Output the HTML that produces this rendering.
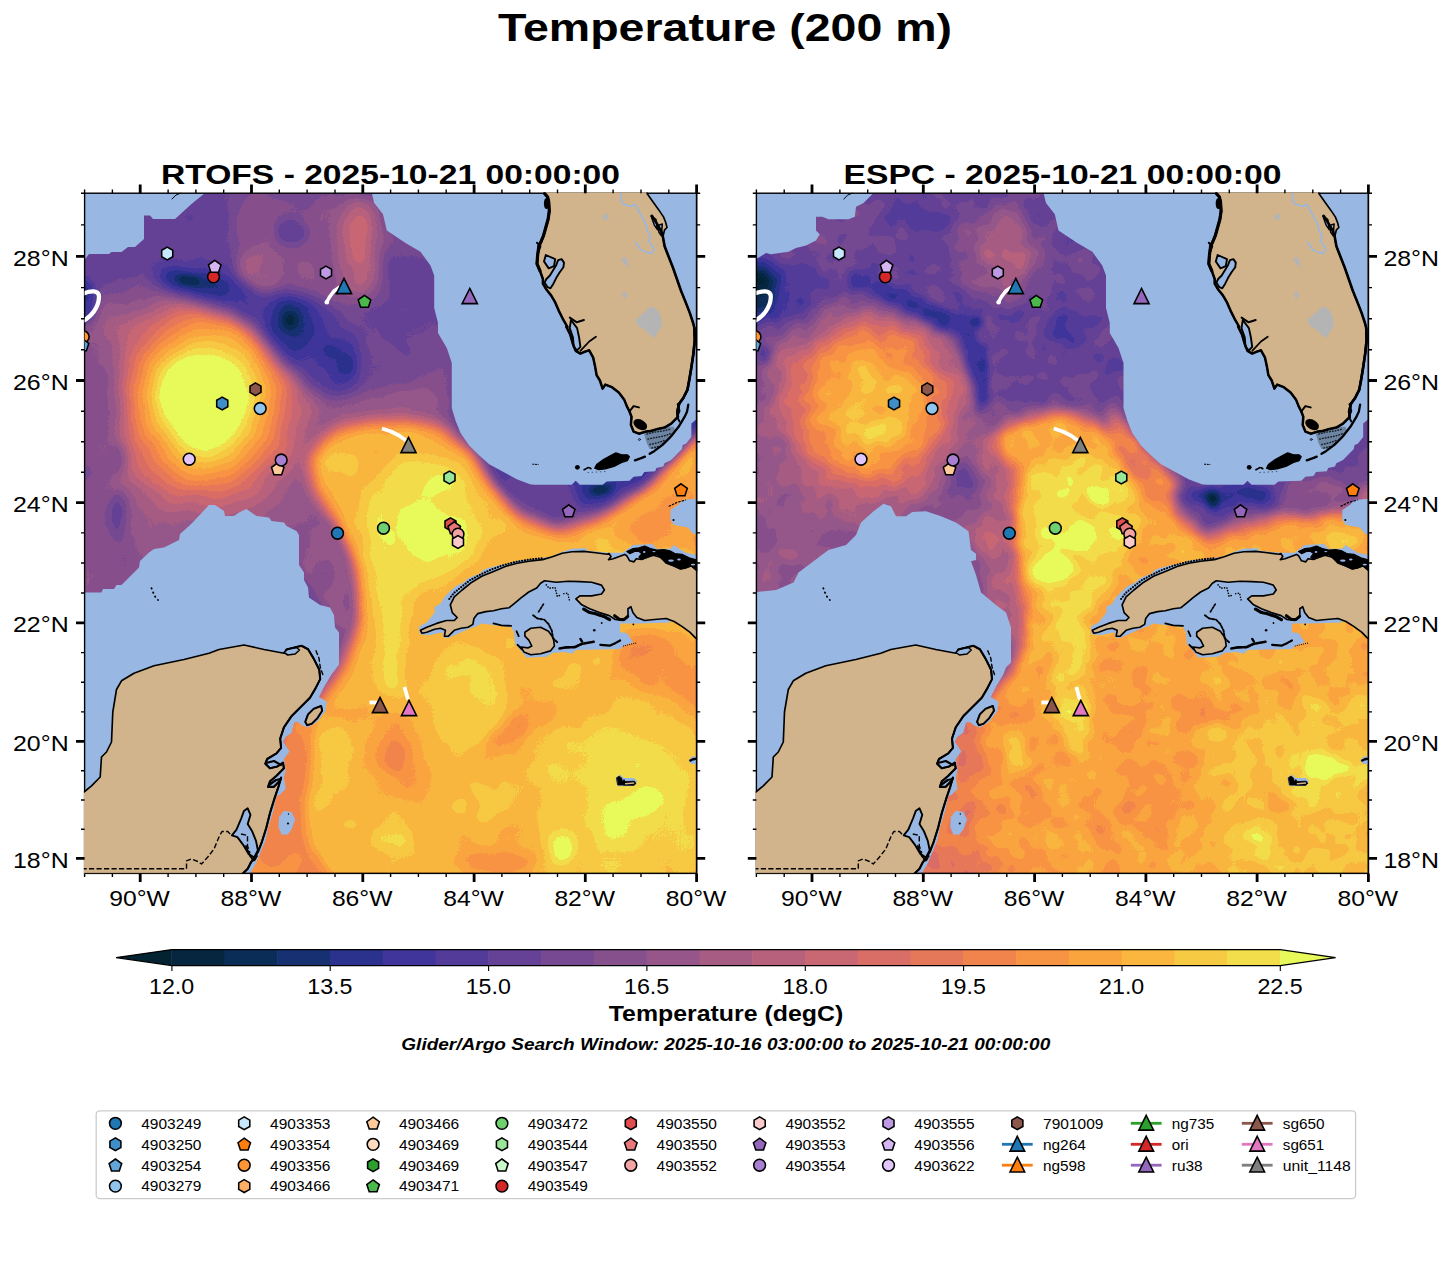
<!DOCTYPE html>
<html><head><meta charset="utf-8"><title>Temperature (200 m)</title>
<style>
html,body{margin:0;padding:0;background:#fff;}
body{width:1452px;height:1264px;overflow:hidden;font-family:"Liberation Sans",sans-serif;}
svg{display:block;font-family:"Liberation Sans",sans-serif;}
</style></head><body>
<svg width="1452" height="1264" viewBox="0 0 1452 1264">
<rect width="1452" height="1264" fill="#fff"/>
<g font-family="Liberation Sans, sans-serif" fill="#000">
<defs>
<clipPath id="clip0"><rect x="84.6" y="193.2" width="612.0" height="680.2"/></clipPath>
<clipPath id="clipL0"><rect x="83.9" y="192.5" width="613.4" height="681.6"/></clipPath>
<filter id="cm0" filterUnits="userSpaceOnUse" x="82.6" y="191.2" width="616.0" height="684.2" color-interpolation-filters="sRGB"><feTurbulence type="fractalNoise" baseFrequency="0.022" numOctaves="2" seed="7" result="n"/><feColorMatrix in="n" type="matrix" values="1 0 0 0 0 1 0 0 0 0 1 0 0 0 0 0 0 0 0 1" result="n2"/><feComposite in="SourceGraphic" in2="n2" operator="arithmetic" k1="0" k2="1" k3="0.085" k4="-0.0425" result="f"/><feComponentTransfer in="f"><feFuncR type="discrete" tableValues="0.0118 0.0118 0.0118 0.0118 0.0216 0.0412 0.0902 0.1686 0.2471 0.3255 0.3971 0.4618 0.5255 0.5882 0.6539 0.7225 0.7882 0.8510 0.9029 0.9441 0.9696 0.9794 0.9794 0.9696 0.9500 0.9059 0.9059 0.9059 0.9059 0.9059 0.9059 0.9059"/><feFuncG type="discrete" tableValues="0.1373 0.1373 0.1373 0.1373 0.1500 0.1755 0.1902 0.1941 0.2078 0.2314 0.2578 0.2873 0.3137 0.3373 0.3598 0.3814 0.4049 0.4304 0.4686 0.5196 0.5784 0.6451 0.7157 0.7902 0.8657 0.9804 0.9804 0.9804 0.9804 0.9804 0.9804 0.9804"/><feFuncB type="discrete" tableValues="0.2000 0.2000 0.2000 0.2000 0.2480 0.3441 0.4461 0.5539 0.6059 0.6020 0.5902 0.5706 0.5529 0.5373 0.5157 0.4882 0.4510 0.4039 0.3529 0.2980 0.2618 0.2441 0.2451 0.2647 0.2941 0.3529 0.3529 0.3529 0.3529 0.3529 0.3529 0.3529"/></feComponentTransfer><feGaussianBlur stdDeviation="0.55"/></filter>
<filter id="b0_2" filterUnits="userSpaceOnUse" x="24.6" y="133.2" width="732.0" height="800.2" color-interpolation-filters="sRGB"><feGaussianBlur stdDeviation="2"/></filter>
<filter id="b0_3" filterUnits="userSpaceOnUse" x="24.6" y="133.2" width="732.0" height="800.2" color-interpolation-filters="sRGB"><feGaussianBlur stdDeviation="3"/></filter>
<filter id="b0_4" filterUnits="userSpaceOnUse" x="24.6" y="133.2" width="732.0" height="800.2" color-interpolation-filters="sRGB"><feGaussianBlur stdDeviation="4"/></filter>
<filter id="b0_5" filterUnits="userSpaceOnUse" x="24.6" y="133.2" width="732.0" height="800.2" color-interpolation-filters="sRGB"><feGaussianBlur stdDeviation="5"/></filter>
<filter id="b0_6" filterUnits="userSpaceOnUse" x="24.6" y="133.2" width="732.0" height="800.2" color-interpolation-filters="sRGB"><feGaussianBlur stdDeviation="6"/></filter>
<filter id="b0_7" filterUnits="userSpaceOnUse" x="24.6" y="133.2" width="732.0" height="800.2" color-interpolation-filters="sRGB"><feGaussianBlur stdDeviation="7"/></filter>
<filter id="b0_8" filterUnits="userSpaceOnUse" x="24.6" y="133.2" width="732.0" height="800.2" color-interpolation-filters="sRGB"><feGaussianBlur stdDeviation="8"/></filter>
<filter id="b0_10" filterUnits="userSpaceOnUse" x="24.6" y="133.2" width="732.0" height="800.2" color-interpolation-filters="sRGB"><feGaussianBlur stdDeviation="10"/></filter>
<filter id="b0_12" filterUnits="userSpaceOnUse" x="24.6" y="133.2" width="732.0" height="800.2" color-interpolation-filters="sRGB"><feGaussianBlur stdDeviation="12"/></filter>
<filter id="b0_14" filterUnits="userSpaceOnUse" x="24.6" y="133.2" width="732.0" height="800.2" color-interpolation-filters="sRGB"><feGaussianBlur stdDeviation="14"/></filter>
<filter id="b0_16" filterUnits="userSpaceOnUse" x="24.6" y="133.2" width="732.0" height="800.2" color-interpolation-filters="sRGB"><feGaussianBlur stdDeviation="16"/></filter>
<filter id="b0_20" filterUnits="userSpaceOnUse" x="24.6" y="133.2" width="732.0" height="800.2" color-interpolation-filters="sRGB"><feGaussianBlur stdDeviation="20"/></filter>
<filter id="b0_24" filterUnits="userSpaceOnUse" x="24.6" y="133.2" width="732.0" height="800.2" color-interpolation-filters="sRGB"><feGaussianBlur stdDeviation="24"/></filter>
<filter id="b0_28" filterUnits="userSpaceOnUse" x="24.6" y="133.2" width="732.0" height="800.2" color-interpolation-filters="sRGB"><feGaussianBlur stdDeviation="28"/></filter>
<filter id="b0_32" filterUnits="userSpaceOnUse" x="24.6" y="133.2" width="732.0" height="800.2" color-interpolation-filters="sRGB"><feGaussianBlur stdDeviation="32"/></filter>
<filter id="b0_40" filterUnits="userSpaceOnUse" x="24.6" y="133.2" width="732.0" height="800.2" color-interpolation-filters="sRGB"><feGaussianBlur stdDeviation="40"/></filter>
<clipPath id="clip1"><rect x="756.4" y="193.2" width="612.0" height="680.2"/></clipPath>
<clipPath id="clipL1"><rect x="755.7" y="192.5" width="613.4" height="681.6"/></clipPath>
<filter id="cm1" filterUnits="userSpaceOnUse" x="754.4" y="191.2" width="616.0" height="684.2" color-interpolation-filters="sRGB"><feTurbulence type="fractalNoise" baseFrequency="0.04" numOctaves="2" seed="11" result="n"/><feColorMatrix in="n" type="matrix" values="1 0 0 0 0 1 0 0 0 0 1 0 0 0 0 0 0 0 0 1" result="n2"/><feComposite in="SourceGraphic" in2="n2" operator="arithmetic" k1="0" k2="1" k3="0.12" k4="-0.0600" result="f"/><feComponentTransfer in="f"><feFuncR type="discrete" tableValues="0.0118 0.0118 0.0118 0.0118 0.0216 0.0412 0.0902 0.1686 0.2471 0.3255 0.3971 0.4618 0.5255 0.5882 0.6539 0.7225 0.7882 0.8510 0.9029 0.9441 0.9696 0.9794 0.9794 0.9696 0.9500 0.9059 0.9059 0.9059 0.9059 0.9059 0.9059 0.9059"/><feFuncG type="discrete" tableValues="0.1373 0.1373 0.1373 0.1373 0.1500 0.1755 0.1902 0.1941 0.2078 0.2314 0.2578 0.2873 0.3137 0.3373 0.3598 0.3814 0.4049 0.4304 0.4686 0.5196 0.5784 0.6451 0.7157 0.7902 0.8657 0.9804 0.9804 0.9804 0.9804 0.9804 0.9804 0.9804"/><feFuncB type="discrete" tableValues="0.2000 0.2000 0.2000 0.2000 0.2480 0.3441 0.4461 0.5539 0.6059 0.6020 0.5902 0.5706 0.5529 0.5373 0.5157 0.4882 0.4510 0.4039 0.3529 0.2980 0.2618 0.2441 0.2451 0.2647 0.2941 0.3529 0.3529 0.3529 0.3529 0.3529 0.3529 0.3529"/></feComponentTransfer><feGaussianBlur stdDeviation="0.55"/></filter>
<filter id="b1_2" filterUnits="userSpaceOnUse" x="696.4" y="133.2" width="732.0" height="800.2" color-interpolation-filters="sRGB"><feGaussianBlur stdDeviation="2"/></filter>
<filter id="b1_3" filterUnits="userSpaceOnUse" x="696.4" y="133.2" width="732.0" height="800.2" color-interpolation-filters="sRGB"><feGaussianBlur stdDeviation="3"/></filter>
<filter id="b1_4" filterUnits="userSpaceOnUse" x="696.4" y="133.2" width="732.0" height="800.2" color-interpolation-filters="sRGB"><feGaussianBlur stdDeviation="4"/></filter>
<filter id="b1_5" filterUnits="userSpaceOnUse" x="696.4" y="133.2" width="732.0" height="800.2" color-interpolation-filters="sRGB"><feGaussianBlur stdDeviation="5"/></filter>
<filter id="b1_6" filterUnits="userSpaceOnUse" x="696.4" y="133.2" width="732.0" height="800.2" color-interpolation-filters="sRGB"><feGaussianBlur stdDeviation="6"/></filter>
<filter id="b1_7" filterUnits="userSpaceOnUse" x="696.4" y="133.2" width="732.0" height="800.2" color-interpolation-filters="sRGB"><feGaussianBlur stdDeviation="7"/></filter>
<filter id="b1_8" filterUnits="userSpaceOnUse" x="696.4" y="133.2" width="732.0" height="800.2" color-interpolation-filters="sRGB"><feGaussianBlur stdDeviation="8"/></filter>
<filter id="b1_10" filterUnits="userSpaceOnUse" x="696.4" y="133.2" width="732.0" height="800.2" color-interpolation-filters="sRGB"><feGaussianBlur stdDeviation="10"/></filter>
<filter id="b1_12" filterUnits="userSpaceOnUse" x="696.4" y="133.2" width="732.0" height="800.2" color-interpolation-filters="sRGB"><feGaussianBlur stdDeviation="12"/></filter>
<filter id="b1_14" filterUnits="userSpaceOnUse" x="696.4" y="133.2" width="732.0" height="800.2" color-interpolation-filters="sRGB"><feGaussianBlur stdDeviation="14"/></filter>
<filter id="b1_16" filterUnits="userSpaceOnUse" x="696.4" y="133.2" width="732.0" height="800.2" color-interpolation-filters="sRGB"><feGaussianBlur stdDeviation="16"/></filter>
<filter id="b1_20" filterUnits="userSpaceOnUse" x="696.4" y="133.2" width="732.0" height="800.2" color-interpolation-filters="sRGB"><feGaussianBlur stdDeviation="20"/></filter>
<filter id="b1_24" filterUnits="userSpaceOnUse" x="696.4" y="133.2" width="732.0" height="800.2" color-interpolation-filters="sRGB"><feGaussianBlur stdDeviation="24"/></filter>
<filter id="b1_28" filterUnits="userSpaceOnUse" x="696.4" y="133.2" width="732.0" height="800.2" color-interpolation-filters="sRGB"><feGaussianBlur stdDeviation="28"/></filter>
<filter id="b1_32" filterUnits="userSpaceOnUse" x="696.4" y="133.2" width="732.0" height="800.2" color-interpolation-filters="sRGB"><feGaussianBlur stdDeviation="32"/></filter>
<filter id="b1_40" filterUnits="userSpaceOnUse" x="696.4" y="133.2" width="732.0" height="800.2" color-interpolation-filters="sRGB"><feGaussianBlur stdDeviation="40"/></filter>
</defs>
<text x="725.0" y="41.4" font-size="39.40" text-anchor="middle" font-weight="bold" font-style="normal" textLength="454.0" lengthAdjust="spacingAndGlyphs">Temperature (200 m)</text>
<text x="390.5" y="183.8" font-size="28.20" text-anchor="middle" font-weight="bold" font-style="normal" textLength="459.0" lengthAdjust="spacingAndGlyphs">RTOFS - 2025-10-21 00:00:00</text>
<text x="1062.5" y="183.8" font-size="28.20" text-anchor="middle" font-weight="bold" font-style="normal" textLength="438.0" lengthAdjust="spacingAndGlyphs">ESPC - 2025-10-21 00:00:00</text>
<g clip-path="url(#clip0)"><g filter="url(#cm0)">
<rect x="14.6" y="123.2" width="752.0" height="820.2" fill="#595959"/>
<polygon points="84.0,250.0 150.0,215.0 235.0,195.0 250.0,260.0 200.0,270.0 120.0,290.0 84.0,300.0" fill="#535353" filter="url(#b0_10)"/>
<polygon points="70.0,310.0 130.0,295.0 230.0,300.0 300.0,380.0 330.0,430.0 320.0,520.0 300.0,560.0 200.0,560.0 150.0,600.0 70.0,620.0" fill="#6b6b6b" filter="url(#b0_16)"/>
<polygon points="300.0,400.0 350.0,395.0 440.0,380.0 450.0,430.0 330.0,470.0" fill="#6c6c6c" filter="url(#b0_10)"/>
<polygon points="215.0,890.0 255.0,790.0 292.0,722.0 318.0,700.0 336.0,677.0 347.0,655.0 357.0,625.0 354.0,575.0 336.0,528.0 312.0,485.0 310.0,455.0 330.0,432.0 365.0,422.0 410.0,420.0 445.0,428.0 472.0,452.0 495.0,487.0 520.0,517.0 558.0,530.0 590.0,522.0 612.0,510.0 645.0,487.0 680.0,452.0 706.0,422.0 710.0,890.0" fill="#b5b5b5" filter="url(#b0_8)"/>
<polygon points="458.0,425.0 478.0,452.0 497.0,482.0 522.0,508.0 558.0,519.0 606.0,506.0 642.0,487.0 678.0,452.0 705.0,425.0 705.0,380.0 458.0,380.0" fill="#535353" filter="url(#b0_5)"/>
<polygon points="566.0,470.0 580.0,508.0 606.0,500.0 640.0,480.0 676.0,446.0 705.0,415.0 705.0,380.0" fill="#3e3e3e" filter="url(#b0_5)"/>
<g filter="url(#b0_3)"><ellipse cx="601.0" cy="489.5" rx="12.0" ry="4.0" fill="#252525" transform="rotate(-6 601.0 489.5)"/></g>
<polygon points="600.0,535.0 640.0,515.0 672.0,490.0 700.0,460.0 712.0,470.0 712.0,545.0 640.0,548.0" fill="#a7a7a7" filter="url(#b0_7)"/>
<polygon points="385.0,462.0 420.0,455.0 455.0,470.0 478.0,500.0 485.0,535.0 470.0,565.0 440.0,580.0 412.0,590.0 402.0,640.0 400.0,692.0 384.0,692.0 380.0,640.0 375.0,590.0 368.0,540.0 365.0,495.0" fill="#c4c4c4" filter="url(#b0_7)"/>
<polygon points="402.0,512.0 425.0,506.0 440.0,516.0 464.0,520.0 462.0,546.0 440.0,550.0 428.0,562.0 413.0,552.0 403.0,530.0" fill="#d9d9d9" filter="url(#b0_4)"/>
<ellipse cx="206.0" cy="401.0" rx="72.0" ry="86.0" fill="#d9d9d9" filter="url(#b0_32)"/>
<ellipse cx="201.0" cy="398.0" rx="35.0" ry="42.0" fill="#dadada" filter="url(#b0_12)"/>
<polygon points="60.0,330.0 110.0,335.0 117.0,400.0 112.0,470.0 125.0,540.0 160.0,575.0 60.0,600.0" fill="#646464" filter="url(#b0_12)"/>
<polygon points="150.0,262.0 200.0,255.0 250.0,275.0 290.0,290.0 330.0,300.0 355.0,330.0 362.0,370.0 350.0,395.0 318.0,392.0 285.0,365.0 262.0,335.0 230.0,312.0 190.0,300.0 155.0,285.0" fill="#484848" filter="url(#b0_8)"/>
<g filter="url(#b0_6)"><ellipse cx="195.0" cy="282.0" rx="36.0" ry="10.0" fill="#393939" transform="rotate(10 195.0 282.0)"/></g>
<g filter="url(#b0_3)"><ellipse cx="189.0" cy="280.5" rx="12.0" ry="4.0" fill="#232323" transform="rotate(8 189.0 280.5)"/></g>
<ellipse cx="290.0" cy="322.0" rx="22.0" ry="26.0" fill="#3b3b3b" filter="url(#b0_7)"/>
<ellipse cx="290.0" cy="321.0" rx="8.0" ry="10.0" fill="#262626" filter="url(#b0_4)"/>
<ellipse cx="329.0" cy="350.0" rx="8.0" ry="8.0" fill="#3e3e3e" filter="url(#b0_4)"/>
<ellipse cx="346.0" cy="366.0" rx="9.0" ry="10.0" fill="#3d3d3d" filter="url(#b0_4)"/>
<polygon points="232.0,200.0 380.0,195.0 392.0,240.0 385.0,300.0 340.0,305.0 300.0,290.0 262.0,292.0 236.0,262.0" fill="#666666" filter="url(#b0_8)"/>
<ellipse cx="357.0" cy="246.0" rx="21.0" ry="47.0" fill="#7c7c7c" filter="url(#b0_7)"/>
<ellipse cx="359.0" cy="241.0" rx="9.0" ry="23.0" fill="#898989" filter="url(#b0_5)"/>
<ellipse cx="262.0" cy="268.0" rx="22.0" ry="18.0" fill="#6e6e6e" filter="url(#b0_6)"/>
<ellipse cx="291.0" cy="233.0" rx="17.0" ry="13.0" fill="#535353" filter="url(#b0_5)"/>
<ellipse cx="117.0" cy="515.0" rx="9.0" ry="25.0" fill="#505050" filter="url(#b0_6)"/>
<ellipse cx="117.0" cy="460.0" rx="8.0" ry="16.0" fill="#595959" filter="url(#b0_6)"/>
<polygon points="300.0,530.0 330.0,520.0 350.0,560.0 352.0,620.0 340.0,640.0 320.0,600.0 300.0,570.0" fill="#6b6b6b" filter="url(#b0_6)"/>
<ellipse cx="324.0" cy="577.0" rx="10.0" ry="15.0" fill="#5c5c5c" filter="url(#b0_5)"/>
<ellipse cx="84.0" cy="300.0" rx="12.0" ry="22.0" fill="#3d3d3d" filter="url(#b0_5)"/>
<ellipse cx="408.0" cy="280.0" rx="22.0" ry="40.0" fill="#535353" filter="url(#b0_8)"/>
<g filter="url(#b0_8)"><ellipse cx="394.0" cy="757.0" rx="27.0" ry="46.0" fill="#a6a6a6" transform="rotate(-10 394.0 757.0)"/></g>
<g filter="url(#b0_5)"><ellipse cx="394.0" cy="755.0" rx="12.0" ry="20.0" fill="#999999" transform="rotate(-10 394.0 755.0)"/></g>
<g filter="url(#b0_7)"><ellipse cx="520.0" cy="727.0" rx="40.0" ry="16.0" fill="#a9a9a9" transform="rotate(-30 520.0 727.0)"/></g>
<ellipse cx="520.5" cy="727.0" rx="7.0" ry="9.0" fill="#9f9f9f" filter="url(#b0_4)"/>
<polygon points="430.0,668.0 470.0,655.0 503.0,672.0 503.0,715.0 478.0,745.0 445.0,735.0 428.0,700.0" fill="#bebebe" filter="url(#b0_7)"/>
<ellipse cx="477.0" cy="688.0" rx="7.0" ry="7.0" fill="#c4c4c4" filter="url(#b0_3)"/>
<polygon points="540.0,738.0 600.0,702.0 655.0,702.0 705.0,740.0 705.0,885.0 560.0,885.0 535.0,820.0" fill="#bcbcbc" filter="url(#b0_12)"/>
<ellipse cx="634.0" cy="795.0" rx="52.0" ry="54.0" fill="#c6c6c6" filter="url(#b0_10)"/>
<g filter="url(#b0_5)"><ellipse cx="645.0" cy="802.0" rx="20.0" ry="13.0" fill="#cfcfcf" transform="rotate(-15 645.0 802.0)"/></g>
<ellipse cx="617.0" cy="769.0" rx="6.0" ry="7.0" fill="#cccccc" filter="url(#b0_3)"/>
<ellipse cx="563.0" cy="848.0" rx="18.0" ry="22.0" fill="#c2c2c2" filter="url(#b0_6)"/>
<ellipse cx="563.0" cy="849.0" rx="11.0" ry="13.0" fill="#d1d1d1" filter="url(#b0_4)"/>
<g filter="url(#b0_4)"><ellipse cx="540.0" cy="772.0" rx="12.0" ry="8.0" fill="#bebebe" transform="rotate(-30 540.0 772.0)"/></g>
<ellipse cx="495.0" cy="862.0" rx="40.0" ry="14.0" fill="#a4a4a4" filter="url(#b0_6)"/>
<polygon points="622.0,628.0 660.0,632.0 710.0,645.0 710.0,700.0 650.0,695.0 618.0,670.0" fill="#a4a4a4" filter="url(#b0_8)"/>
<polygon points="290.0,722.0 315.5,721.8 311.8,751.6 308.1,788.8 304.4,816.7 308.1,844.6 323.0,863.2 336.0,885.0 236.0,885.0 262.0,800.0 278.0,750.0" fill="#9e9e9e" filter="url(#b0_5)"/>
<ellipse cx="336.0" cy="755.0" rx="16.0" ry="34.0" fill="#bcbcbc" filter="url(#b0_6)"/>
<ellipse cx="392.0" cy="840.0" rx="20.0" ry="10.0" fill="#bcbcbc" filter="url(#b0_5)"/>
<g filter="url(#b0_4)"><ellipse cx="544.0" cy="771.0" rx="14.0" ry="8.0" fill="#bebebe" transform="rotate(-20 544.0 771.0)"/></g>
</g></g>
<g clip-path="url(#clip0)" fill="#98b7e2">
<polygon points="80.0,190.0 205.0,190.0 205.0,193.0 191.5,204.0 175.0,219.0 153.0,219.0 150.0,215.5 144.0,215.5 144.0,239.0 135.0,247.0 128.0,247.0 121.5,252.0 111.5,252.0 109.0,254.0 89.0,254.0 84.0,260.5 80.0,262.0"/>
<polygon points="371.8,190.0 371.8,193.0 374.2,203.0 383.0,214.2 386.8,230.5 405.5,243.0 420.5,251.8 430.5,265.5 434.2,275.5 434.2,308.0 438.0,323.0 438.0,333.0 446.8,348.0 451.8,363.0 451.8,408.0 455.5,420.5 460.5,433.0 469.2,445.5 478.0,454.2 489.2,464.2 503.0,471.8 516.8,479.2 530.0,484.2 534.0,484.8 571.7,484.8 575.7,480.7 579.8,484.8 602.6,484.8 606.7,481.4 629.5,480.7 633.6,476.7 641.6,476.0 644.3,472.0 655.1,471.3 656.4,468.0 663.2,466.6 664.5,463.2 671.2,459.9 682.0,449.1 682.7,445.1 686.0,443.7 691.4,437.0 691.4,423.6 696.1,419.5 702.0,415.0 702.0,190.0"/>
<polygon points="80.0,592.5 101.5,592.5 103.0,589.0 114.0,589.0 116.5,585.0 121.5,585.0 139.0,567.5 140.0,561.0 149.0,552.5 154.0,549.0 164.0,547.5 179.0,540.0 180.0,534.0 189.0,526.0 195.0,520.0 209.0,505.0 215.0,505.0 224.0,511.0 225.0,516.0 234.0,516.0 239.0,512.5 246.5,509.0 256.5,516.0 269.0,517.5 271.5,521.0 284.0,522.5 286.5,526.0 296.5,531.0 299.0,535.0 299.0,565.0 304.0,572.5 304.0,580.0 308.0,587.5 309.0,597.5 320.0,605.0 330.0,607.5 334.0,615.0 335.0,627.5 339.0,632.5 339.0,664.5 331.5,674.5 324.0,687.0 319.0,697.0 326.7,701.4 325.8,710.7 317.4,721.8 308.1,727.4 302.5,725.5 298.0,722.0 294.2,722.5 291.4,733.0 285.8,736.7 283.0,741.4 289.5,751.6 283.9,759.0 285.8,770.2 283.9,777.6 285.8,788.8 280.2,794.4 276.5,796.2 272.8,813.0 268.1,827.8 265.3,840.9 259.8,853.9 256.0,863.2 250.5,872.5 248.0,882.0 80.0,882.0"/>
<polygon points="279.0,817.0 284.0,810.8 291.5,812.0 295.2,819.5 291.5,829.5 287.8,834.5 281.5,834.5 278.5,827.0"/>
<polygon points="702.0,498.0 696.0,498.8 683.0,500.0 678.0,505.0 670.5,510.0 670.5,520.0 674.2,525.0 688.0,527.5 693.0,533.8 702.0,535.0"/>
<polygon points="418.9,626.4 426.8,622.4 434.6,612.6 434.6,606.7 440.5,603.8 444.4,596.9 450.3,591.0 456.2,586.1 464.1,582.2 468.0,578.3 479.8,573.4 483.7,569.4 497.4,565.5 509.2,563.6 517.1,560.6 530.8,559.6 542.6,557.7 550.4,556.7 562.2,551.8 572.0,548.8 585.8,548.2 587.7,550.8 609.3,552.8 623.0,552.8 628.0,548.8 632.9,544.9 652.5,543.9 656.4,548.8 670.2,548.8 674.1,544.9 678.0,547.9 685.9,552.8 695.7,554.7 703.5,554.7 703.5,598.9 670.2,619.5 670.2,622.4 638.7,623.4 620.1,623.4 620.1,632.2 627.0,633.2 632.9,642.1 623.0,646.0 620.1,648.9 575.9,649.9 572.0,653.8 564.2,651.9 552.4,652.9 546.5,656.8 526.9,657.8 522.0,651.9 515.1,644.0 514.1,632.2 511.2,627.3 489.6,624.4 481.7,623.4 475.8,626.4 470.0,628.3 448.4,638.1 444.4,638.1 442.5,632.2 428.7,635.2 419.9,634.2"/>
</g>
<rect x="84.6" y="193.2" width="612.0" height="680.2" fill="none" stroke="#000" stroke-width="1.4"/>
<g clip-path="url(#clipL0)" stroke="#000" stroke-width="1.65" stroke-linejoin="round" stroke-linecap="round" fill="none">
<polygon points="544.6,193.5 547.6,197.0 548.7,201.7 549.3,211.1 548.1,219.3 545.8,227.5 543.5,235.7 541.1,241.5 538.8,246.2 537.6,255.6 537.0,263.8 540.0,270.8 542.9,279.0 542.9,283.7 546.4,289.5 551.1,295.4 555.2,302.4 558.7,310.6 562.8,318.8 567.5,327.0 566.3,326.7 570.3,334.8 573.0,344.2 575.7,350.9 580.4,353.6 585.1,351.6 589.2,350.3 593.2,357.7 595.2,367.1 596.6,375.1 599.9,380.5 602.6,388.6 605.3,384.6 612.0,387.2 618.8,392.6 624.1,399.4 626.8,406.1 629.5,411.5 631.5,416.8 630.9,424.9 633.6,431.6 638.9,433.7 645.7,431.6 651.0,431.0 657.8,428.9 664.5,427.6 671.2,423.6 677.9,416.8 677.3,411.5 679.3,403.4 683.3,398.0 687.4,389.9 689.4,379.2 691.4,367.1 693.4,353.6 694.8,340.2 694.4,328.1 693.3,323.5 689.8,312.9 685.7,302.4 681.0,290.7 676.9,279.0 672.8,267.3 668.2,255.6 664.6,246.2 662.9,236.8 664.6,229.8 667.0,227.5 665.8,222.8 663.5,216.9 658.8,209.9 652.9,201.7 647.1,193.5 647.1,186.5 544.6,186.5" fill="#d2b48c"/>
<polygon points="420.5,630.3 426.8,627.3 436.6,623.4 446.4,620.5 454.3,620.5 457.2,617.5 452.3,612.6 450.3,604.8 454.3,596.9 462.1,590.0 471.9,582.2 481.7,576.3 493.5,571.4 505.3,566.5 517.1,563.2 528.8,561.2 542.6,559.6 552.4,556.7 562.2,553.3 572.0,551.8 583.8,551.4 595.6,552.8 607.3,554.2 609.0,553.5 611.0,556.5 608.5,559.7 613.2,558.7 624.7,554.4 626.8,555.8 629.7,560.8 634.0,561.9 636.1,558.7 641.8,559.4 646.1,557.6 653.3,555.1 660.5,557.2 666.2,563.0 673.4,565.8 680.5,569.0 685.5,568.0 691.3,565.8 696.3,570.1 704.0,573.0 703.5,642.1 695.7,638.1 689.8,632.2 681.9,626.4 674.1,621.5 666.2,618.5 654.5,619.5 644.6,620.5 636.8,617.5 632.9,612.6 630.9,606.7 628.0,608.7 628.0,616.5 623.0,620.5 615.2,619.5 609.3,615.6 599.5,612.6 589.7,608.7 581.8,604.8 575.9,598.9 579.9,595.9 591.6,595.9 601.5,594.0 604.4,590.0 601.5,585.1 591.6,582.2 579.9,581.6 568.1,581.2 556.3,582.2 544.5,580.8 540.6,583.2 536.7,588.1 528.8,592.0 521.0,597.9 515.1,602.8 509.2,607.7 501.4,608.7 493.5,610.7 485.7,611.6 477.8,613.6 473.9,618.5 472.9,624.4 468.0,627.3 461.1,628.3 454.3,630.3 448.4,636.2 444.4,636.2 445.4,630.3 440.5,628.3 434.6,629.3 426.8,632.2 421.9,633.2" fill="#d2b48c"/>
<polygon points="524.9,632.2 530.8,628.3 540.6,627.3 548.5,631.3 553.4,638.1 554.4,646.0 550.4,650.9 540.6,653.8 530.8,654.8 523.9,651.9 521.0,647.0 527.9,647.9 531.8,646.0 528.8,640.1 524.9,636.2" fill="#d2b48c"/>
<polygon points="79.0,792.0 84.0,792.0 91.5,785.8 100.2,777.0 101.5,757.0 106.5,752.0 111.5,742.0 112.8,712.0 116.5,689.5 121.5,680.8 134.0,673.2 154.0,665.8 184.0,659.5 209.0,653.2 219.0,649.5 244.0,645.0 264.0,649.5 284.0,653.2 286.5,649.5 301.5,645.8 308.1,649.3 313.7,658.6 319.3,669.8 320.2,679.1 315.5,688.4 310.0,697.7 300.7,707.0 291.4,716.3 283.9,727.4 280.2,738.6 281.1,747.9 276.5,753.4 267.2,759.0 265.3,763.7 270.0,768.3 277.4,766.5 283.0,762.7 283.9,768.3 276.5,775.8 270.0,781.3 268.1,786.9 273.7,786.9 279.3,781.3 281.1,777.6 278.4,786.9 274.6,798.1 270.0,813.0 266.3,827.8 261.6,842.7 257.9,852.0 250.5,863.2 247.7,868.8 241.2,875.1 238.0,884.0 79.0,884.0" fill="#d2b48c"/>
<polygon points="305.3,721.8 308.1,714.4 313.7,708.8 321.1,706.0 322.1,710.7 317.4,718.1 311.8,723.7 307.2,725.2" fill="#d2b48c"/>
<polygon points="635.4,320.0 642.4,314.1 648.3,308.3 652.9,306.5 658.8,311.8 661.7,318.8 661.5,325.8 661.1,328.1 657.1,332.8 655.8,337.5 651.0,336.1 644.3,329.4 637.6,325.4" fill="#b4b4b4" stroke="none"/>
<polygon points="621.3,259.1 624.8,256.7 627.8,260.2 628.4,264.9 630.1,269.6 627.2,266.1 623.7,263.8" fill="#b4b4b4" stroke="none"/>
<polygon points="621.9,293.0 625.4,291.3 627.8,294.8 625.4,298.3 623.7,299.5 623.1,296.0" fill="#b4b4b4" stroke="none"/>
<circle cx="605.5" cy="217" r="3" fill="#b4b4b4" stroke="none"/>
<path d="M620.7 193.5 L620.7 201.1 L623.7 204.0 L630.7 206.4 L635.4 204.6 L638.9 211.1 L642.4 218.1 L645.9 224.0 L647.1 231.0 L650.6 236.8 L648.3 241.5 L651.8 245.0 L654.1 248.5 L651.8 253.2 L647.1 252.6 L640.1 249.1 L636.0 242.1" stroke="#98b7e2" stroke-width="1.6"/>
<polygon points="544.6,282.5 546.4,279.0 549.9,275.5 552.8,270.8 556.3,264.9 558.1,260.2 561.6,259.1 564.0,262.6 563.4,267.3 559.9,272.0 556.3,277.8 553.4,283.7 550.5,288.3 547.6,287.2" fill="#98b7e2" stroke-width="1.9"/>
<polygon points="545.8,255.0 555.2,259.1 554.0,266.1 548.7,268.4 544.0,261.4" fill="#98b7e2" stroke-width="1.9"/>
<polygon points="571.0,320.0 577.1,328.1 579.1,337.5 580.4,346.9 577.1,350.3 573.7,346.9 573.0,337.5 569.7,328.1" fill="#98b7e2" stroke-width="1.9"/>
<polygon points="247.7,808.3 250.5,814.8 247.7,824.1 252.3,831.6 256.0,840.9 257.9,850.2 254.2,857.6 248.6,853.9 243.0,844.6 237.4,837.1 231.9,835.3 236.5,829.7 241.2,818.5 243.9,811.1" fill="#98b7e2" stroke-width="1.9"/>
<polygon points="651.2,216.3 655.9,219.3 657.6,229.8 654.3,225.1" fill="#98b7e2" stroke-width="1.5"/>
<polygon points="658.8,225.1 662.3,224.0 661.4,235.7 658.8,232.1" fill="#98b7e2" stroke-width="1.5"/>
<polygon points="284.0,652.5 287.8,649.0 296.5,647.5 299.5,650.0 295.2,654.0 287.8,655.0" fill="#98b7e2" stroke-width="1.5"/>
<path d="M544.6 193.5 L547.6 197.0 L548.7 201.7 L549.3 211.1 L548.1 219.3 L545.8 227.5 L543.5 235.7 L541.1 241.5 L538.8 246.2 L537.6 255.6 L537.0 263.8 L540.0 270.8 L542.9 279.0 L542.9 283.7 L546.4 289.5 L551.1 295.4 L555.2 302.4 L558.7 310.6 L562.8 318.8 L567.5 327.0 L566.3 326.7 L570.3 334.8 L573.0 344.2 L575.7 350.9 L580.4 353.6 L585.1 351.6 L589.2 350.3 L593.2 357.7 L595.2 367.1 L596.6 375.1 L599.9 380.5 L602.6 388.6 L605.3 384.6 L612.0 387.2 L618.8 392.6 L624.1 399.4 L626.8 406.1 L629.5 411.5 L631.5 416.8 L630.9 424.9 L633.6 431.6 L638.9 433.7 L645.7 431.6 L651.0 431.0 L657.8 428.9 L664.5 427.6 L671.2 423.6 L677.9 416.8 L677.3 411.5 L679.3 403.4 L683.3 398.0 L687.4 389.9 L689.4 379.2 L691.4 367.1 L693.4 353.6 L694.8 340.2 L694.4 328.1" stroke-width="2.5"/>
<path d="M544.6 193.5 L547.6 197.0 L548.7 201.7 L549.3 211.1 L548.1 219.3 L545.8 227.5 L543.5 235.7 L541.1 241.5 L538.8 246.2 L537.6 255.6 L537.0 263.8 L540.0 270.8" stroke-width="3.2"/>
<path d="M677.9 416.8 L677.3 411.5 L679.3 403.4 L683.3 398.0 L687.4 389.9 L689.4 379.2 L691.4 367.1 L693.4 353.6 L694.8 340.2 L694.4 328.1 L693.3 323.5 L689.8 312.9 L685.7 302.4 L681.0 290.7 L676.9 279.0 L672.8 267.3 L668.2 255.6 L664.6 246.2 L662.9 236.8 L661.1 231.0 L656.4 222.8 L651.8 215.8" stroke-width="2.6"/>
<path d="M580.4 350.9 L589.2 341.5 L595.9 336.8" stroke-width="1.8"/>
<path d="M629.5 411.5 L633.6 406.1 L638.9 407.4" stroke-width="2"/>
<path d="M569.8 317.6 L576.8 322.3 L583.9 320.0" stroke-width="2"/>
<path d="M537.0 242.7 L540.5 246.2 L538.8 250.9" stroke-width="2"/>
<ellipse cx="640.3" cy="424.6" rx="6.6" ry="4.0" fill="#000" transform="rotate(30 640.3 424.6)"/>
<ellipse cx="546.5" cy="203.5" rx="2.6" ry="5.5" fill="#000" stroke="none"/>
<path d="M688.3 404.6 L687.1 411.4 L684.4 417.2 L678.6 426.8 L670.9 436.5 L662.2 445.1 L654.5 450.9 L649.7 453.8" stroke-width="2.3"/>
<path d="M644.9 456.7 L634.3 460.6" stroke-width="2.4" stroke-dasharray="4.5 1.6"/>
<polygon points="594.7,468.3 596.6,464.4 603.4,459.6 612.1,454.8 615.9,452.9 621.7,454.8 627.5,454.8 629.4,456.7 627.5,460.6 621.7,462.5 614.0,466.4 605.3,468.8 598.6,469.7" fill="#000" stroke-width="1.2"/>
<circle cx="577.4" cy="467.3" r="2.4" fill="#000" stroke="none"/>
<path d="M584.1 469.7 L588.9 467.3 L591.8 469.3" stroke-width="1.7" stroke-dasharray="1.6 1.5"/>
<path d="M588.0 472.5 L606.0 471.5" stroke-width="0.9" stroke-dasharray="0.6 3.5" stroke-opacity="0.6"/>
<path d="M532.7 464.2 L538.1 464.5" stroke-width="1" stroke-dasharray="1.2 1.5"/>
<polygon points="643.9,433.6 648.7,429.7 656.4,428.8 666.1,426.8 673.8,426.8 675.7,431.6 670.9,438.4 664.1,445.1 656.4,449.0 649.7,449.0 646.8,443.2" fill="#000" fill-opacity="0.28" stroke="none"/>
<path d="M647.0 434.0 L655.0 432.0 L663.0 431.0 L671.0 429.0" stroke-width="1.5" stroke-dasharray="0.6 2.2" stroke-opacity="0.75"/>
<path d="M648.0 439.0 L656.0 437.5 L664.0 436.0 L671.0 433.5" stroke-width="1.5" stroke-dasharray="0.6 2.2" stroke-opacity="0.75"/>
<path d="M650.0 444.5 L657.0 443.0 L664.0 440.5" stroke-width="1.5" stroke-dasharray="0.6 2.2" stroke-opacity="0.75"/>
<path d="M652.0 448.0 L659.0 446.5" stroke-width="1.5" stroke-dasharray="0.6 2.2" stroke-opacity="0.75"/>
<circle cx="639.4" cy="439.5" r="1" fill="none" stroke-width="0.7"/>
<path d="M677.6 404.0 L679.6 411.0 L677.2 417.0 L679.5 421.5" stroke-width="1.8"/>
<polygon points="626.8,551.5 633.2,548.6 639.0,547.9 644.7,546.1 650.4,548.6 656.9,550.1 664.1,549.7 669.8,550.8 674.8,553.6 682.0,554.4 689.1,557.9 697.0,560.1 697.0,570.5 691.3,565.8 685.5,568.0 680.5,569.0 673.4,565.8 666.2,563.0 661.9,558.7 656.9,554.4 651.9,554.4 646.1,557.6 641.8,559.4 639.0,557.2 641.8,553.6 639.0,551.5 634.7,551.5 629.7,553.6" fill="#000" stroke-width="1.2"/>
<ellipse cx="632.7" cy="557.3" rx="3.0" ry="2.3" fill="#98b7e2" stroke="none"/>
<ellipse cx="644.2" cy="552.0" rx="1.3" ry="1.0" fill="#98b7e2" stroke="none"/>
<ellipse cx="671.0" cy="560.6" rx="2.8" ry="1.2" fill="#98b7e2" stroke="none"/>
<ellipse cx="693.0" cy="564.6" rx="2.2" ry="0.9" fill="#98b7e2" stroke="none"/>
<ellipse cx="654.0" cy="551.6" rx="1.6" ry="0.7" fill="#98b7e2" stroke="none"/>
<ellipse cx="679.0" cy="559.5" rx="1.8" ry="1.0" fill="#98b7e2" stroke="none"/>
<path d="M449.3 598.9 L454.3 592.6 L461.1 587.1 L470.0 580.2 L479.8 574.9 L490.6 569.8 L502.3 565.5 L515.1 562.0 L528.8 559.6 L542.6 558.1" stroke-width="2.1" stroke-dasharray="0.1 2.7"/>
<path d="M583.7 609.1 L589.3 612.4 L594.8 613.5 L599.7 615.2 L604.7 616.8 L609.6 619.6" stroke-width="3.2" stroke-dasharray="2.6 1.4"/>
<path d="M614.6 615.7 L619.6 619.4 L624.0 619.6 L627.8 616.3" stroke-width="3.0"/>
<path d="M533.1 615.2 L537.5 618.5 L544.1 619.6 L548.5 624.0 L551.8 630.6 L552.9 638.3 L557.3 642.2" stroke-width="1.9" stroke-dasharray="2.5 1.6"/>
<path d="M559.5 648.5 L566.1 647.4 L574.9 647.1 L581.5 644.0 L587.1 642.9 L593.7 641.8" stroke-width="2.6" stroke-dasharray="3 1.2"/>
<path d="M580.4 638.9 L582.1 641.6" stroke-width="2.4"/>
<path d="M600.3 644.9 L610.2 645.6 L615.7 642.9 L620.1 640.5" stroke-width="2.2"/>
<path d="M623.4 646.0 L630.0 644.4 L637.7 642.7" stroke-width="1.1" stroke-dasharray="0.1 2"/>
<path d="M538.6 611.9 L541.3 607.5 L544.1 603.1" stroke-width="1.7" stroke-dasharray="2 1.6"/>
<path d="M546.3 584.9 L549.0 588.2 L555.1 587.6 L557.3 596.4 L560.1 595.3" stroke-width="1.6" stroke-dasharray="0.1 2.6"/>
<path d="M563.9 593.7 L567.8 593.1 L569.4 600.3" stroke-width="1.5" stroke-dasharray="0.1 2.6"/>
<path d="M516.5 631.2 L518.7 636.1" stroke-width="1.8"/>
<path d="M517.6 644.9 L522.0 649.3" stroke-width="2"/>
<circle cx="594.3" cy="630.2" r="1.3" fill="#000" stroke="none"/>
<circle cx="601.7" cy="623" r="0.9" fill="#000" stroke="none"/>
<circle cx="633.4" cy="624.4" r="0.9" fill="#000" stroke="none"/>
<path d="M493.5 623.4 L501.4 625.4 L511.2 625.8" stroke-width="1.8"/>
<path d="M286.5 649.5 L301.5 645.8 L308.1 649.3 L313.7 658.6 L319.3 669.8 L320.2 679.1 L315.5 688.4 L310.0 697.7 L300.7 707.0 L291.4 716.3 L283.9 727.4 L280.2 738.6 L281.1 747.9 L276.5 753.4 L267.2 759.0 L265.3 763.7 L270.0 768.3 L277.4 766.5 L283.0 762.7 L283.9 768.3 L276.5 775.8 L270.0 781.3 L268.1 786.9 L273.7 786.9 L279.3 781.3 L281.1 777.6 L278.4 786.9 L274.6 798.1 L270.0 813.0 L266.3 827.8 L261.6 842.7 L257.9 852.0 L250.5 863.2 L247.7 868.8 L241.2 875.1" stroke-width="2.1"/>
<polygon points="305.3,721.8 308.1,714.4 313.7,708.8 321.1,706.0 322.1,710.7 317.4,718.1 311.8,723.7 307.2,725.2" fill="#d2b48c" stroke-width="1.9"/>
<path d="M316.0 650.8 L319.0 658.2 L320.2 667.0 L322.8 674.5" stroke-width="1.4" stroke-dasharray="4 3"/>
<path d="M151.5 588.2 L154.5 595.8 L158.0 600.0" stroke-width="1.8" stroke-dasharray="0.5 4"/>
<path d="M81.5 868.8 L186.5 868.8 L186.5 860.8 L191.5 859.0 L197.8 861.5 L201.5 864.0 L207.8 857.0 L214.0 849.0 L219.0 837.0 L222.0 831.5 L227.8 831.5 L231.0 835.0" stroke-width="1.4" stroke-dasharray="5.2 2.3" stroke-linecap="butt"/>
<path d="M241.0 834.0 L247.5 835.5 L247.5 846.0 L250.0 853.0" stroke-width="1.4" stroke-dasharray="5.2 2.3" stroke-linecap="butt"/>
<path d="M246.0 846.0 L250.0 856.0 L254.0 861.0 L257.0 856.0" stroke-width="1.8" stroke-dasharray="3 1.5"/>
<path d="M266.0 763.0 L274.0 761.0 L281.0 765.0" stroke-width="2.2"/>
<path d="M269.0 785.0 L276.0 780.0 L281.0 779.0" stroke-width="2.2"/>
<circle cx="288.0" cy="823.5" r="1.1" fill="#000" stroke="none"/><circle cx="288.5" cy="814" r="0.7" fill="#000" stroke="none"/>
<polygon points="615.5,778.5 620.0,774.5 623.5,778.0 634.0,778.0 637.2,781.3 634.0,786.0 618.0,786.2" fill="#98b7e2" stroke="none"/>
<polygon points="616.8,777.6 619.2,776.2 621.6,778.0 622.6,781.8 624.0,779.6 625.2,781.6 634.4,781.2 636.0,783.4 634.0,785.3 625.0,785.3 622.0,785.0 618.0,785.0" fill="#000" stroke-width="0.8"/>
<path d="M625.0 783.7 L634.2 782.9" stroke="#d2b48c" stroke-width="1.5" stroke-linecap="butt"/>
<polygon points="688.5,760.5 692.0,756.5 697.0,756.5 697.0,764.0 691.5,764.0" fill="#98b7e2" stroke="none"/>
<path d="M689.5 761.0 L693.0 759.2 L697.0 758.6" stroke-width="2.4" stroke-linecap="butt"/>
<path d="M669.2 506.2 L676.8 502.5 L685.5 500.0" stroke-width="1.2" stroke-dasharray="1.5 2"/>
<circle cx="673.5" cy="520" r="1.1" fill="#000" stroke="none"/>
<path d="M172.0 199.0 L176.0 195.0 L181.0 193.0" stroke-width="1"/>
</g>
<g clip-path="url(#clip0)">
<path d="M82.0 294 C90.0 290.5 99.5 289.5 99.0 297.5 C98.5 307 92.0 316.5 82.0 321.5" fill="none" stroke="#fff" stroke-width="4.2"/>
<path d="M340.0 287.0 L334.0 291.0 L329.5 297.0 L326.5 302.5" fill="none" stroke="#fff" stroke-width="3.6" stroke-linecap="butt" stroke-linejoin="round"/>
<path d="M382.0 428.5 L391.0 431.5 L399.0 435.5 L406.0 440.5" fill="none" stroke="#fff" stroke-width="3.8" stroke-linecap="butt" stroke-linejoin="round"/>
<path d="M369.5 702.5 L377.0 702.5" fill="none" stroke="#fff" stroke-width="3.8" stroke-linecap="butt" stroke-linejoin="round"/>
<path d="M404.5 687.0 L408.0 699.5" fill="none" stroke="#fff" stroke-width="3.8" stroke-linecap="butt" stroke-linejoin="round"/>
<circle cx="326.8" cy="302.3" r="2.3" fill="#fff"/>
<polygon points="167.2,247.1 172.8,250.3 172.8,256.7 167.2,259.9 161.7,256.7 161.7,250.3" fill="#c6e7fc" stroke="#000" stroke-width="1.55" stroke-linejoin="miter"/>
<circle cx="213.5" cy="276.8" r="5.9" fill="#d62728" stroke="#000" stroke-width="1.55"/>
<polygon points="214.8,260.3 221.0,264.9 218.6,272.2 210.9,272.2 208.5,264.9" fill="#d5b6f3" stroke="#000" stroke-width="1.55" stroke-linejoin="miter"/>
<polygon points="326.0,266.1 331.5,269.3 331.5,275.7 326.0,278.9 320.5,275.7 320.5,269.3" fill="#bf9ae4" stroke="#000" stroke-width="1.55" stroke-linejoin="miter"/>
<polygon points="364.5,295.3 370.8,299.9 368.4,307.2 360.6,307.2 358.2,299.9" fill="#4bb84b" stroke="#000" stroke-width="1.55" stroke-linejoin="miter"/>
<polygon points="255.5,382.9 261.0,386.1 261.0,392.4 255.5,395.6 250.0,392.4 250.0,386.1" fill="#8c564b" stroke="#000" stroke-width="1.55" stroke-linejoin="miter"/>
<polygon points="222.2,397.1 227.8,400.3 227.8,406.7 222.2,409.9 216.7,406.7 216.7,400.3" fill="#3f8ec9" stroke="#000" stroke-width="1.55" stroke-linejoin="miter"/>
<circle cx="260.2" cy="408.5" r="5.9" fill="#8fc4ec" stroke="#000" stroke-width="1.55"/>
<circle cx="189.2" cy="459.2" r="5.9" fill="#e0c6fb" stroke="#000" stroke-width="1.55"/>
<polygon points="277.8,462.8 284.0,467.4 281.6,474.7 273.9,474.7 271.5,467.4" fill="#ffc999" stroke="#000" stroke-width="1.55" stroke-linejoin="miter"/>
<circle cx="281.2" cy="460.0" r="5.9" fill="#a87fd2" stroke="#000" stroke-width="1.55"/>
<circle cx="83.2" cy="336.8" r="5.9" fill="#ff9535" stroke="#000" stroke-width="1.55"/>
<polygon points="82.5,338.8 88.8,343.4 86.4,350.7 78.6,350.7 76.2,343.4" fill="#62a5d8" stroke="#000" stroke-width="1.55" stroke-linejoin="miter"/>
<polygon points="449.5,471.1 455.0,474.3 455.0,480.7 449.5,483.9 444.0,480.7 444.0,474.3" fill="#98e698" stroke="#000" stroke-width="1.55" stroke-linejoin="miter"/>
<polygon points="681.0,483.8 687.3,488.4 684.9,495.7 677.1,495.7 674.7,488.4" fill="#ff7f0e" stroke="#000" stroke-width="1.55" stroke-linejoin="miter"/>
<polygon points="568.8,504.8 575.0,509.4 572.6,516.7 564.9,516.7 562.5,509.4" fill="#9467bd" stroke="#000" stroke-width="1.55" stroke-linejoin="miter"/>
<circle cx="337.5" cy="533.2" r="5.9" fill="#1f77b4" stroke="#000" stroke-width="1.55"/>
<circle cx="383.5" cy="528.2" r="5.9" fill="#6fd06f" stroke="#000" stroke-width="1.55"/>
<polygon points="450.5,517.9 456.0,521.0 456.0,527.5 450.5,530.6 445.0,527.5 445.0,521.0" fill="#e04d4e" stroke="#000" stroke-width="1.55" stroke-linejoin="miter"/>
<polygon points="454.2,521.8 460.5,526.4 458.1,533.7 450.4,533.7 448.0,526.4" fill="#ea7778" stroke="#000" stroke-width="1.55" stroke-linejoin="miter"/>
<circle cx="458.0" cy="534.2" r="5.9" fill="#f4a3a3" stroke="#000" stroke-width="1.55"/>
<polygon points="458.0,535.6 463.5,538.8 463.5,545.2 458.0,548.4 452.5,545.2 452.5,538.8" fill="#fccaca" stroke="#000" stroke-width="1.55" stroke-linejoin="miter"/>
<polygon points="344.0,278.4 351.6,293.6 336.4,293.6" fill="#1f77b4" stroke="#000" stroke-width="1.55" stroke-linejoin="miter"/>
<polygon points="469.8,288.4 477.4,303.6 462.1,303.6" fill="#9467bd" stroke="#000" stroke-width="1.55" stroke-linejoin="miter"/>
<polygon points="408.5,437.4 416.1,452.6 400.9,452.6" fill="#7f7f7f" stroke="#000" stroke-width="1.55" stroke-linejoin="miter"/>
<polygon points="380.0,697.4 387.6,712.6 372.4,712.6" fill="#8c564b" stroke="#000" stroke-width="1.55" stroke-linejoin="miter"/>
<polygon points="409.0,700.4 416.6,715.6 401.4,715.6" fill="#e377c2" stroke="#000" stroke-width="1.55" stroke-linejoin="miter"/>
</g>
<path d="M84.6 873.4h612.0" stroke="#000" stroke-width="1" fill="none"/>
<path d="M696.6 193.2V873.4" stroke="#000" stroke-width="1.4" fill="none"/>
<path d="M140.2 193.2v-8.6M140.2 873.4v8.6M251.5 193.2v-8.6M251.5 873.4v8.6M362.8 193.2v-8.6M362.8 873.4v8.6M474.1 193.2v-8.6M474.1 873.4v8.6M585.3 193.2v-8.6M585.3 873.4v8.6M696.6 193.2v-8.6M696.6 873.4v8.6M84.6 858.3h-8.6M696.6 858.3h8.6M84.6 741.3h-8.6M696.6 741.3h8.6M84.6 622.8h-8.6M696.6 622.8h8.6M84.6 502.6h-8.6M696.6 502.6h8.6M84.6 380.5h-8.6M696.6 380.5h8.6M84.6 256.3h-8.6M696.6 256.3h8.6" stroke="#000" stroke-width="2.8" fill="none"/>
<path d="M84.6 193.2v-3.6M84.6 873.4v3.6M112.4 193.2v-3.6M112.4 873.4v3.6M168.1 193.2v-3.6M168.1 873.4v3.6M195.9 193.2v-3.6M195.9 873.4v3.6M223.7 193.2v-3.6M223.7 873.4v3.6M279.3 193.2v-3.6M279.3 873.4v3.6M307.1 193.2v-3.6M307.1 873.4v3.6M335.0 193.2v-3.6M335.0 873.4v3.6M390.6 193.2v-3.6M390.6 873.4v3.6M418.4 193.2v-3.6M418.4 873.4v3.6M446.2 193.2v-3.6M446.2 873.4v3.6M501.9 193.2v-3.6M501.9 873.4v3.6M529.7 193.2v-3.6M529.7 873.4v3.6M557.5 193.2v-3.6M557.5 873.4v3.6M613.1 193.2v-3.6M613.1 873.4v3.6M641.0 193.2v-3.6M641.0 873.4v3.6M668.8 193.2v-3.6M668.8 873.4v3.6M84.6 829.2h-3.6M696.6 829.2h3.6M84.6 800.0h-3.6M696.6 800.0h3.6M84.6 770.7h-3.6M696.6 770.7h3.6M84.6 711.9h-3.6M696.6 711.9h3.6M84.6 682.3h-3.6M696.6 682.3h3.6M84.6 652.6h-3.6M696.6 652.6h3.6M84.6 593.0h-3.6M696.6 593.0h3.6M84.6 563.0h-3.6M696.6 563.0h3.6M84.6 532.9h-3.6M696.6 532.9h3.6M84.6 472.3h-3.6M696.6 472.3h3.6M84.6 441.8h-3.6M696.6 441.8h3.6M84.6 411.2h-3.6M696.6 411.2h3.6M84.6 349.7h-3.6M696.6 349.7h3.6M84.6 318.7h-3.6M696.6 318.7h3.6M84.6 287.6h-3.6M696.6 287.6h3.6M84.6 224.9h-3.6M696.6 224.9h3.6M84.6 193.3h-3.6M696.6 193.3h3.6" stroke="#000" stroke-width="1.4" fill="none"/>
<text x="139.6" y="905.7" font-size="22.60" text-anchor="middle" font-weight="normal" font-style="normal" textLength="60.6" lengthAdjust="spacingAndGlyphs">90°W</text>
<text x="250.9" y="905.7" font-size="22.60" text-anchor="middle" font-weight="normal" font-style="normal" textLength="60.6" lengthAdjust="spacingAndGlyphs">88°W</text>
<text x="362.2" y="905.7" font-size="22.60" text-anchor="middle" font-weight="normal" font-style="normal" textLength="60.6" lengthAdjust="spacingAndGlyphs">86°W</text>
<text x="473.5" y="905.7" font-size="22.60" text-anchor="middle" font-weight="normal" font-style="normal" textLength="60.6" lengthAdjust="spacingAndGlyphs">84°W</text>
<text x="584.7" y="905.7" font-size="22.60" text-anchor="middle" font-weight="normal" font-style="normal" textLength="60.6" lengthAdjust="spacingAndGlyphs">82°W</text>
<text x="696.0" y="905.7" font-size="22.60" text-anchor="middle" font-weight="normal" font-style="normal" textLength="60.6" lengthAdjust="spacingAndGlyphs">80°W</text>
<text x="68.6" y="867.7" font-size="22.60" text-anchor="end" font-weight="normal" font-style="normal" textLength="55.6" lengthAdjust="spacingAndGlyphs">18°N</text>
<text x="68.6" y="750.7" font-size="22.60" text-anchor="end" font-weight="normal" font-style="normal" textLength="55.6" lengthAdjust="spacingAndGlyphs">20°N</text>
<text x="68.6" y="632.2" font-size="22.60" text-anchor="end" font-weight="normal" font-style="normal" textLength="55.6" lengthAdjust="spacingAndGlyphs">22°N</text>
<text x="68.6" y="512.0" font-size="22.60" text-anchor="end" font-weight="normal" font-style="normal" textLength="55.6" lengthAdjust="spacingAndGlyphs">24°N</text>
<text x="68.6" y="389.9" font-size="22.60" text-anchor="end" font-weight="normal" font-style="normal" textLength="55.6" lengthAdjust="spacingAndGlyphs">26°N</text>
<text x="68.6" y="265.7" font-size="22.60" text-anchor="end" font-weight="normal" font-style="normal" textLength="55.6" lengthAdjust="spacingAndGlyphs">28°N</text>
<g clip-path="url(#clip1)"><g filter="url(#cm1)">
<rect x="686.4" y="123.2" width="752.0" height="820.2" fill="#565656"/>
<polygon points="741.8,340.0 791.8,320.0 971.8,330.0 1001.8,430.0 991.8,520.0 971.8,560.0 871.8,560.0 821.8,600.0 741.8,620.0" fill="#6b6b6b" filter="url(#b1_14)"/>
<polygon points="886.8,890.0 926.8,790.0 963.8,722.0 989.8,700.0 1007.8,677.0 1016.8,655.0 1016.8,625.0 1011.8,590.0 1002.8,545.0 989.8,500.0 981.8,470.0 989.8,440.0 1016.8,420.0 1051.8,410.0 1091.8,418.0 1121.8,440.0 1144.8,457.0 1159.8,480.0 1174.8,505.0 1187.8,525.0 1204.8,535.0 1229.8,530.0 1254.8,522.0 1279.8,517.0 1304.8,515.0 1329.8,510.0 1381.8,505.0 1381.8,890.0" fill="#afafaf" filter="url(#b1_8)"/>
<polygon points="969.8,470.0 991.8,440.0 1016.8,470.0 1023.8,560.0 1021.8,640.0 1007.8,660.0 989.8,610.0 973.8,560.0" fill="#797979" filter="url(#b1_8)"/>
<polygon points="1111.8,405.0 1123.8,420.0 1134.8,433.0 1144.8,450.0 1164.8,468.0 1181.8,482.0 1171.8,495.0 1156.8,510.0 1131.8,482.0 1111.8,445.0" fill="#969696" filter="url(#b1_6)"/>
<g filter="url(#b1_6)"><ellipse cx="1231.8" cy="497.0" rx="45.0" ry="13.0" fill="#404040" transform="rotate(-3 1231.8 497.0)"/></g>
<ellipse cx="1212.8" cy="499.0" rx="7.0" ry="8.0" fill="#252525" filter="url(#b1_3)"/>
<g filter="url(#b1_8)"><ellipse cx="1321.8" cy="492.0" rx="35.0" ry="16.0" fill="#666666" transform="rotate(-10 1321.8 492.0)"/></g>
<ellipse cx="1365.8" cy="505.0" rx="8.0" ry="22.0" fill="#7c7c7c" filter="url(#b1_5)"/>
<g filter="url(#b1_4)"><ellipse cx="1326.8" cy="540.0" rx="35.0" ry="6.0" fill="#bababa" transform="rotate(5 1326.8 540.0)"/></g>
<polygon points="1031.8,470.0 1071.8,450.0 1111.8,460.0 1133.8,490.0 1136.8,530.0 1121.8,560.0 1101.8,580.0 1089.8,620.0 1089.8,690.0 1081.8,750.0 1066.8,757.0 1056.8,700.0 1054.8,640.0 1046.8,600.0 1026.8,580.0 1019.8,540.0 1021.8,500.0" fill="#c2c2c2" filter="url(#b1_8)"/>
<g filter="url(#b1_3)"><ellipse cx="1097.8" cy="496.0" rx="12.0" ry="6.0" fill="#d6d6d6" transform="rotate(35 1097.8 496.0)"/></g>
<g filter="url(#b1_4)"><ellipse cx="1081.8" cy="535.0" rx="11.0" ry="17.0" fill="#d6d6d6" transform="rotate(20 1081.8 535.0)"/></g>
<ellipse cx="1047.8" cy="568.0" rx="20.0" ry="15.0" fill="#d4d4d4" filter="url(#b1_5)"/>
<ellipse cx="870.8" cy="405.0" rx="76.0" ry="82.0" fill="#b4b4b4" filter="url(#b1_24)"/>
<ellipse cx="876.8" cy="429.0" rx="33.0" ry="11.0" fill="#bebebe" filter="url(#b1_5)"/>
<ellipse cx="861.8" cy="415.0" rx="14.0" ry="8.0" fill="#bcbcbc" filter="url(#b1_4)"/>
<ellipse cx="766.8" cy="290.0" rx="45.0" ry="32.0" fill="#404040" filter="url(#b1_12)"/>
<ellipse cx="753.8" cy="288.0" rx="20.0" ry="26.0" fill="#262626" filter="url(#b1_7)"/>
<ellipse cx="763.8" cy="355.0" rx="7.0" ry="10.0" fill="#464646" filter="url(#b1_4)"/>
<polygon points="851.8,268.0 901.8,285.0 936.8,305.0 971.8,320.0 983.8,350.0 989.8,400.0 979.8,415.0 971.8,380.0 956.8,340.0 921.8,318.0 881.8,300.0 846.8,285.0" fill="#414141" filter="url(#b1_5)"/>
<ellipse cx="975.8" cy="323.0" rx="8.0" ry="6.0" fill="#383838" filter="url(#b1_3)"/>
<ellipse cx="982.8" cy="375.0" rx="4.0" ry="30.0" fill="#3d3d3d" filter="url(#b1_3)"/>
<g filter="url(#b1_6)"><ellipse cx="921.8" cy="215.0" rx="30.0" ry="14.0" fill="#494949" transform="rotate(30 921.8 215.0)"/></g>
<ellipse cx="1003.8" cy="252.0" rx="45.0" ry="48.0" fill="#666666" filter="url(#b1_10)"/>
<g filter="url(#b1_7)"><ellipse cx="1005.8" cy="250.0" rx="25.0" ry="31.0" fill="#767676" transform="rotate(-25 1005.8 250.0)"/></g>
<ellipse cx="836.8" cy="236.0" rx="22.0" ry="18.0" fill="#616161" filter="url(#b1_7)"/>
<ellipse cx="963.8" cy="482.0" rx="18.0" ry="30.0" fill="#585858" filter="url(#b1_8)"/>
<ellipse cx="1071.8" cy="330.0" rx="30.0" ry="20.0" fill="#4b4b4b" filter="url(#b1_8)"/>
<polygon points="926.8,890.0 971.8,740.0 1001.8,690.0 1033.8,700.0 1043.8,760.0 1056.8,890.0" fill="#a6a6a6" filter="url(#b1_10)"/>
<polygon points="961.8,722.0 985.8,721.8 981.8,751.6 977.8,788.8 973.8,816.7 976.8,844.6 989.8,863.2 1003.8,885.0 907.8,885.0 933.8,800.0 949.8,750.0" fill="#969696" filter="url(#b1_5)"/>
<polygon points="1091.8,650.0 1141.8,640.0 1191.8,690.0 1181.8,800.0 1141.8,890.0 1061.8,890.0 1066.8,780.0" fill="#ababab" filter="url(#b1_12)"/>
<g filter="url(#b1_6)"><ellipse cx="1073.8" cy="700.0" rx="12.0" ry="60.0" fill="#bfbfbf" transform="rotate(-5 1073.8 700.0)"/></g>
<ellipse cx="1126.8" cy="740.0" rx="14.0" ry="10.0" fill="#9c9c9c" filter="url(#b1_5)"/>
<ellipse cx="1161.8" cy="790.0" rx="12.0" ry="16.0" fill="#9e9e9e" filter="url(#b1_5)"/>
<ellipse cx="1101.8" cy="830.0" rx="16.0" ry="10.0" fill="#9e9e9e" filter="url(#b1_5)"/>
<g filter="url(#b1_6)"><ellipse cx="1191.8" cy="710.0" rx="40.0" ry="14.0" fill="#a3a3a3" transform="rotate(10 1191.8 710.0)"/></g>
<ellipse cx="1141.8" cy="800.0" rx="30.0" ry="35.0" fill="#a4a4a4" filter="url(#b1_8)"/>
<ellipse cx="1116.8" cy="665.0" rx="12.0" ry="10.0" fill="#a4a4a4" filter="url(#b1_5)"/>
<polygon points="1211.8,740.0 1271.8,700.0 1381.8,690.0 1381.8,890.0 1231.8,890.0 1216.8,820.0" fill="#b8b8b8" filter="url(#b1_12)"/>
<ellipse cx="1321.8" cy="775.0" rx="50.0" ry="35.0" fill="#bebebe" filter="url(#b1_8)"/>
<ellipse cx="1327.8" cy="767.0" rx="22.0" ry="13.0" fill="#cfcfcf" filter="url(#b1_4)"/>
<ellipse cx="1256.8" cy="838.0" rx="22.0" ry="18.0" fill="#bebebe" filter="url(#b1_6)"/>
<ellipse cx="1254.8" cy="837.0" rx="8.0" ry="5.0" fill="#c9c9c9" filter="url(#b1_3)"/>
<ellipse cx="1276.8" cy="805.0" rx="10.0" ry="10.0" fill="#a6a6a6" filter="url(#b1_4)"/>
<ellipse cx="1016.8" cy="750.0" rx="12.0" ry="25.0" fill="#b4b4b4" filter="url(#b1_5)"/>
<ellipse cx="1046.8" cy="840.0" rx="20.0" ry="10.0" fill="#b4b4b4" filter="url(#b1_5)"/>
</g></g>
<g clip-path="url(#clip1)" fill="#98b7e2">
<polygon points="751.8,190.0 873.5,190.0 873.5,193.0 863.5,203.0 856.0,206.8 854.8,216.8 848.5,219.2 828.5,219.2 822.3,216.8 816.0,216.8 816.0,230.5 819.8,234.2 816.0,240.5 806.0,245.5 796.0,248.0 788.5,251.8 771.0,254.2 766.0,253.0 756.0,259.2 751.8,261.0"/>
<polygon points="1043.5,190.0 1043.5,193.0 1046.0,203.0 1054.8,214.2 1058.5,230.5 1077.3,243.0 1092.3,251.8 1102.3,265.5 1106.0,275.5 1106.0,308.0 1109.8,323.0 1109.8,333.0 1118.5,348.0 1123.5,363.0 1123.5,408.0 1127.3,420.5 1132.3,433.0 1141.0,445.5 1149.8,454.2 1161.0,464.2 1174.8,471.8 1188.5,479.2 1201.8,484.2 1205.8,484.8 1243.5,484.8 1247.5,480.7 1251.6,484.8 1274.4,484.8 1278.5,481.4 1301.3,480.7 1305.4,476.7 1313.4,476.0 1316.1,472.0 1326.9,471.3 1328.2,468.0 1335.0,466.6 1336.3,463.2 1343.0,459.9 1353.8,449.1 1354.5,445.1 1357.8,443.7 1363.2,437.0 1363.2,423.6 1367.9,419.5 1373.8,415.0 1373.8,190.0"/>
<polygon points="751.8,592.5 776.0,590.0 793.5,582.5 798.5,572.5 813.5,561.2 828.5,550.0 846.0,545.0 856.0,535.0 861.0,522.5 873.5,511.2 883.5,503.8 891.0,506.2 896.0,516.2 906.0,516.2 912.3,512.0 926.0,511.2 941.0,516.2 956.0,522.5 968.5,531.2 971.0,550.0 976.0,553.8 976.0,560.0 971.0,561.2 976.0,575.0 981.0,592.5 996.0,605.0 1006.0,612.5 1011.0,627.5 1011.0,662.5 1006.0,667.5 1003.3,674.5 995.8,687.0 990.8,697.0 998.5,701.4 997.6,710.7 989.2,721.8 979.9,727.4 974.3,725.5 969.8,722.0 966.0,722.5 963.2,733.0 957.6,736.7 954.8,741.4 961.3,751.6 955.7,759.0 957.6,770.2 955.7,777.6 957.6,788.8 952.0,794.4 948.3,796.2 944.6,813.0 939.9,827.8 937.1,840.9 931.6,853.9 927.8,863.2 922.3,872.5 919.8,882.0 751.8,882.0"/>
<polygon points="950.8,817.0 955.8,810.8 963.3,812.0 967.0,819.5 963.3,829.5 959.5,834.5 953.3,834.5 950.3,827.0"/>
<polygon points="1373.8,498.0 1367.8,498.8 1354.8,500.0 1349.8,505.0 1342.3,510.0 1342.3,520.0 1346.0,525.0 1359.8,527.5 1364.8,533.8 1373.8,535.0"/>
<polygon points="1090.7,626.4 1098.6,622.4 1106.4,612.6 1106.4,606.7 1112.3,603.8 1116.2,596.9 1122.1,591.0 1128.0,586.1 1135.9,582.2 1139.8,578.3 1151.6,573.4 1155.5,569.4 1169.2,565.5 1181.0,563.6 1188.9,560.6 1202.6,559.6 1214.4,557.7 1222.2,556.7 1234.0,551.8 1243.8,548.8 1257.6,548.2 1259.5,550.8 1281.1,552.8 1294.8,552.8 1299.8,548.8 1304.7,544.9 1324.3,543.9 1328.2,548.8 1342.0,548.8 1345.9,544.9 1349.8,547.9 1357.7,552.8 1367.5,554.7 1375.3,554.7 1375.3,598.9 1342.0,619.5 1342.0,622.4 1310.5,623.4 1291.9,623.4 1291.9,632.2 1298.8,633.2 1304.7,642.1 1294.8,646.0 1291.9,648.9 1247.7,649.9 1243.8,653.8 1236.0,651.9 1224.2,652.9 1218.3,656.8 1198.7,657.8 1193.8,651.9 1186.9,644.0 1185.9,632.2 1183.0,627.3 1161.4,624.4 1153.5,623.4 1147.6,626.4 1141.8,628.3 1120.2,638.1 1116.2,638.1 1114.3,632.2 1100.5,635.2 1091.7,634.2"/>
</g>
<rect x="756.4" y="193.2" width="612.0" height="680.2" fill="none" stroke="#000" stroke-width="1.4"/>
<g clip-path="url(#clipL1)" stroke="#000" stroke-width="1.65" stroke-linejoin="round" stroke-linecap="round" fill="none">
<polygon points="1216.4,193.5 1219.4,197.0 1220.5,201.7 1221.1,211.1 1219.9,219.3 1217.6,227.5 1215.3,235.7 1212.9,241.5 1210.6,246.2 1209.4,255.6 1208.8,263.8 1211.8,270.8 1214.7,279.0 1214.7,283.7 1218.2,289.5 1222.9,295.4 1227.0,302.4 1230.5,310.6 1234.6,318.8 1239.3,327.0 1238.1,326.7 1242.1,334.8 1244.8,344.2 1247.5,350.9 1252.2,353.6 1256.9,351.6 1261.0,350.3 1265.0,357.7 1267.0,367.1 1268.4,375.1 1271.7,380.5 1274.4,388.6 1277.1,384.6 1283.8,387.2 1290.6,392.6 1295.9,399.4 1298.6,406.1 1301.3,411.5 1303.3,416.8 1302.7,424.9 1305.4,431.6 1310.7,433.7 1317.5,431.6 1322.8,431.0 1329.6,428.9 1336.3,427.6 1343.0,423.6 1349.7,416.8 1349.1,411.5 1351.1,403.4 1355.1,398.0 1359.2,389.9 1361.2,379.2 1363.2,367.1 1365.2,353.6 1366.6,340.2 1366.2,328.1 1365.1,323.5 1361.6,312.9 1357.5,302.4 1352.8,290.7 1348.7,279.0 1344.6,267.3 1340.0,255.6 1336.4,246.2 1334.7,236.8 1336.4,229.8 1338.8,227.5 1337.6,222.8 1335.3,216.9 1330.6,209.9 1324.7,201.7 1318.9,193.5 1318.9,186.5 1216.4,186.5" fill="#d2b48c"/>
<polygon points="1092.3,630.3 1098.6,627.3 1108.4,623.4 1118.2,620.5 1126.1,620.5 1129.0,617.5 1124.1,612.6 1122.1,604.8 1126.1,596.9 1133.9,590.0 1143.7,582.2 1153.5,576.3 1165.3,571.4 1177.1,566.5 1188.9,563.2 1200.6,561.2 1214.4,559.6 1224.2,556.7 1234.0,553.3 1243.8,551.8 1255.6,551.4 1267.4,552.8 1279.1,554.2 1280.8,553.5 1282.8,556.5 1280.3,559.7 1285.0,558.7 1296.5,554.4 1298.6,555.8 1301.5,560.8 1305.8,561.9 1307.9,558.7 1313.6,559.4 1317.9,557.6 1325.1,555.1 1332.3,557.2 1338.0,563.0 1345.2,565.8 1352.3,569.0 1357.3,568.0 1363.1,565.8 1368.1,570.1 1375.8,573.0 1375.3,642.1 1367.5,638.1 1361.6,632.2 1353.7,626.4 1345.9,621.5 1338.0,618.5 1326.3,619.5 1316.4,620.5 1308.6,617.5 1304.7,612.6 1302.7,606.7 1299.8,608.7 1299.8,616.5 1294.8,620.5 1287.0,619.5 1281.1,615.6 1271.3,612.6 1261.5,608.7 1253.6,604.8 1247.7,598.9 1251.7,595.9 1263.4,595.9 1273.3,594.0 1276.2,590.0 1273.3,585.1 1263.4,582.2 1251.7,581.6 1239.9,581.2 1228.1,582.2 1216.3,580.8 1212.4,583.2 1208.5,588.1 1200.6,592.0 1192.8,597.9 1186.9,602.8 1181.0,607.7 1173.2,608.7 1165.3,610.7 1157.5,611.6 1149.6,613.6 1145.7,618.5 1144.7,624.4 1139.8,627.3 1132.9,628.3 1126.1,630.3 1120.2,636.2 1116.2,636.2 1117.2,630.3 1112.3,628.3 1106.4,629.3 1098.6,632.2 1093.7,633.2" fill="#d2b48c"/>
<polygon points="1196.7,632.2 1202.6,628.3 1212.4,627.3 1220.3,631.3 1225.2,638.1 1226.2,646.0 1222.2,650.9 1212.4,653.8 1202.6,654.8 1195.7,651.9 1192.8,647.0 1199.7,647.9 1203.6,646.0 1200.6,640.1 1196.7,636.2" fill="#d2b48c"/>
<polygon points="750.8,792.0 755.8,792.0 763.3,785.8 772.0,777.0 773.3,757.0 778.3,752.0 783.3,742.0 784.5,712.0 788.3,689.5 793.3,680.8 805.8,673.2 825.8,665.8 855.8,659.5 880.8,653.2 890.8,649.5 915.8,645.0 935.8,649.5 955.8,653.2 958.3,649.5 973.3,645.8 979.9,649.3 985.5,658.6 991.1,669.8 992.0,679.1 987.3,688.4 981.8,697.7 972.5,707.0 963.2,716.3 955.7,727.4 952.0,738.6 952.9,747.9 948.3,753.4 939.0,759.0 937.1,763.7 941.8,768.3 949.2,766.5 954.8,762.7 955.7,768.3 948.3,775.8 941.8,781.3 939.9,786.9 945.5,786.9 951.1,781.3 952.9,777.6 950.2,786.9 946.4,798.1 941.8,813.0 938.1,827.8 933.4,842.7 929.7,852.0 922.3,863.2 919.5,868.8 913.0,875.1 909.8,884.0 750.8,884.0" fill="#d2b48c"/>
<polygon points="977.1,721.8 979.9,714.4 985.5,708.8 992.9,706.0 993.9,710.7 989.2,718.1 983.6,723.7 979.0,725.2" fill="#d2b48c"/>
<polygon points="1307.2,320.0 1314.2,314.1 1320.1,308.3 1324.7,306.5 1330.6,311.8 1333.5,318.8 1333.3,325.8 1332.9,328.1 1328.9,332.8 1327.6,337.5 1322.8,336.1 1316.1,329.4 1309.4,325.4" fill="#b4b4b4" stroke="none"/>
<polygon points="1293.1,259.1 1296.6,256.7 1299.6,260.2 1300.2,264.9 1301.9,269.6 1299.0,266.1 1295.5,263.8" fill="#b4b4b4" stroke="none"/>
<polygon points="1293.7,293.0 1297.2,291.3 1299.6,294.8 1297.2,298.3 1295.5,299.5 1294.9,296.0" fill="#b4b4b4" stroke="none"/>
<circle cx="1277.3" cy="217" r="3" fill="#b4b4b4" stroke="none"/>
<path d="M1292.5 193.5 L1292.5 201.1 L1295.5 204.0 L1302.5 206.4 L1307.2 204.6 L1310.7 211.1 L1314.2 218.1 L1317.7 224.0 L1318.9 231.0 L1322.4 236.8 L1320.1 241.5 L1323.6 245.0 L1325.9 248.5 L1323.6 253.2 L1318.9 252.6 L1311.9 249.1 L1307.8 242.1" stroke="#98b7e2" stroke-width="1.6"/>
<polygon points="1216.4,282.5 1218.2,279.0 1221.7,275.5 1224.6,270.8 1228.1,264.9 1229.9,260.2 1233.4,259.1 1235.8,262.6 1235.2,267.3 1231.7,272.0 1228.1,277.8 1225.2,283.7 1222.3,288.3 1219.4,287.2" fill="#98b7e2" stroke-width="1.9"/>
<polygon points="1217.6,255.0 1227.0,259.1 1225.8,266.1 1220.5,268.4 1215.8,261.4" fill="#98b7e2" stroke-width="1.9"/>
<polygon points="1242.8,320.0 1248.9,328.1 1250.9,337.5 1252.2,346.9 1248.9,350.3 1245.5,346.9 1244.8,337.5 1241.5,328.1" fill="#98b7e2" stroke-width="1.9"/>
<polygon points="919.5,808.3 922.3,814.8 919.5,824.1 924.1,831.6 927.8,840.9 929.7,850.2 926.0,857.6 920.4,853.9 914.8,844.6 909.2,837.1 903.7,835.3 908.3,829.7 913.0,818.5 915.7,811.1" fill="#98b7e2" stroke-width="1.9"/>
<polygon points="1323.0,216.3 1327.7,219.3 1329.4,229.8 1326.1,225.1" fill="#98b7e2" stroke-width="1.5"/>
<polygon points="1330.6,225.1 1334.1,224.0 1333.2,235.7 1330.6,232.1" fill="#98b7e2" stroke-width="1.5"/>
<polygon points="955.8,652.5 959.5,649.0 968.3,647.5 971.3,650.0 967.0,654.0 959.5,655.0" fill="#98b7e2" stroke-width="1.5"/>
<path d="M1216.4 193.5 L1219.4 197.0 L1220.5 201.7 L1221.1 211.1 L1219.9 219.3 L1217.6 227.5 L1215.3 235.7 L1212.9 241.5 L1210.6 246.2 L1209.4 255.6 L1208.8 263.8 L1211.8 270.8 L1214.7 279.0 L1214.7 283.7 L1218.2 289.5 L1222.9 295.4 L1227.0 302.4 L1230.5 310.6 L1234.6 318.8 L1239.3 327.0 L1238.1 326.7 L1242.1 334.8 L1244.8 344.2 L1247.5 350.9 L1252.2 353.6 L1256.9 351.6 L1261.0 350.3 L1265.0 357.7 L1267.0 367.1 L1268.4 375.1 L1271.7 380.5 L1274.4 388.6 L1277.1 384.6 L1283.8 387.2 L1290.6 392.6 L1295.9 399.4 L1298.6 406.1 L1301.3 411.5 L1303.3 416.8 L1302.7 424.9 L1305.4 431.6 L1310.7 433.7 L1317.5 431.6 L1322.8 431.0 L1329.6 428.9 L1336.3 427.6 L1343.0 423.6 L1349.7 416.8 L1349.1 411.5 L1351.1 403.4 L1355.1 398.0 L1359.2 389.9 L1361.2 379.2 L1363.2 367.1 L1365.2 353.6 L1366.6 340.2 L1366.2 328.1" stroke-width="2.5"/>
<path d="M1216.4 193.5 L1219.4 197.0 L1220.5 201.7 L1221.1 211.1 L1219.9 219.3 L1217.6 227.5 L1215.3 235.7 L1212.9 241.5 L1210.6 246.2 L1209.4 255.6 L1208.8 263.8 L1211.8 270.8" stroke-width="3.2"/>
<path d="M1349.7 416.8 L1349.1 411.5 L1351.1 403.4 L1355.1 398.0 L1359.2 389.9 L1361.2 379.2 L1363.2 367.1 L1365.2 353.6 L1366.6 340.2 L1366.2 328.1 L1365.1 323.5 L1361.6 312.9 L1357.5 302.4 L1352.8 290.7 L1348.7 279.0 L1344.6 267.3 L1340.0 255.6 L1336.4 246.2 L1334.7 236.8 L1332.9 231.0 L1328.2 222.8 L1323.6 215.8" stroke-width="2.6"/>
<path d="M1252.2 350.9 L1261.0 341.5 L1267.7 336.8" stroke-width="1.8"/>
<path d="M1301.3 411.5 L1305.4 406.1 L1310.7 407.4" stroke-width="2"/>
<path d="M1241.6 317.6 L1248.6 322.3 L1255.7 320.0" stroke-width="2"/>
<path d="M1208.8 242.7 L1212.3 246.2 L1210.6 250.9" stroke-width="2"/>
<ellipse cx="1312.1" cy="424.6" rx="6.6" ry="4.0" fill="#000" transform="rotate(30 1312.1 424.6)"/>
<ellipse cx="1218.3" cy="203.5" rx="2.6" ry="5.5" fill="#000" stroke="none"/>
<path d="M1360.1 404.6 L1358.9 411.4 L1356.2 417.2 L1350.4 426.8 L1342.7 436.5 L1334.0 445.1 L1326.3 450.9 L1321.5 453.8" stroke-width="2.3"/>
<path d="M1316.7 456.7 L1306.1 460.6" stroke-width="2.4" stroke-dasharray="4.5 1.6"/>
<polygon points="1266.5,468.3 1268.4,464.4 1275.2,459.6 1283.9,454.8 1287.7,452.9 1293.5,454.8 1299.3,454.8 1301.2,456.7 1299.3,460.6 1293.5,462.5 1285.8,466.4 1277.1,468.8 1270.4,469.7" fill="#000" stroke-width="1.2"/>
<circle cx="1249.2" cy="467.3" r="2.4" fill="#000" stroke="none"/>
<path d="M1255.9 469.7 L1260.7 467.3 L1263.6 469.3" stroke-width="1.7" stroke-dasharray="1.6 1.5"/>
<path d="M1259.8 472.5 L1277.8 471.5" stroke-width="0.9" stroke-dasharray="0.6 3.5" stroke-opacity="0.6"/>
<path d="M1204.5 464.2 L1209.9 464.5" stroke-width="1" stroke-dasharray="1.2 1.5"/>
<polygon points="1315.7,433.6 1320.5,429.7 1328.2,428.8 1337.9,426.8 1345.6,426.8 1347.5,431.6 1342.7,438.4 1335.9,445.1 1328.2,449.0 1321.5,449.0 1318.6,443.2" fill="#000" fill-opacity="0.28" stroke="none"/>
<path d="M1318.8 434.0 L1326.8 432.0 L1334.8 431.0 L1342.8 429.0" stroke-width="1.5" stroke-dasharray="0.6 2.2" stroke-opacity="0.75"/>
<path d="M1319.8 439.0 L1327.8 437.5 L1335.8 436.0 L1342.8 433.5" stroke-width="1.5" stroke-dasharray="0.6 2.2" stroke-opacity="0.75"/>
<path d="M1321.8 444.5 L1328.8 443.0 L1335.8 440.5" stroke-width="1.5" stroke-dasharray="0.6 2.2" stroke-opacity="0.75"/>
<path d="M1323.8 448.0 L1330.8 446.5" stroke-width="1.5" stroke-dasharray="0.6 2.2" stroke-opacity="0.75"/>
<circle cx="1311.2" cy="439.5" r="1" fill="none" stroke-width="0.7"/>
<path d="M1349.4 404.0 L1351.4 411.0 L1349.0 417.0 L1351.3 421.5" stroke-width="1.8"/>
<polygon points="1298.6,551.5 1305.0,548.6 1310.8,547.9 1316.5,546.1 1322.2,548.6 1328.7,550.1 1335.9,549.7 1341.6,550.8 1346.6,553.6 1353.8,554.4 1360.9,557.9 1368.8,560.1 1368.8,570.5 1363.1,565.8 1357.3,568.0 1352.3,569.0 1345.2,565.8 1338.0,563.0 1333.7,558.7 1328.7,554.4 1323.7,554.4 1317.9,557.6 1313.6,559.4 1310.8,557.2 1313.6,553.6 1310.8,551.5 1306.5,551.5 1301.5,553.6" fill="#000" stroke-width="1.2"/>
<ellipse cx="1304.5" cy="557.3" rx="3.0" ry="2.3" fill="#98b7e2" stroke="none"/>
<ellipse cx="1316.0" cy="552.0" rx="1.3" ry="1.0" fill="#98b7e2" stroke="none"/>
<ellipse cx="1342.8" cy="560.6" rx="2.8" ry="1.2" fill="#98b7e2" stroke="none"/>
<ellipse cx="1364.8" cy="564.6" rx="2.2" ry="0.9" fill="#98b7e2" stroke="none"/>
<ellipse cx="1325.8" cy="551.6" rx="1.6" ry="0.7" fill="#98b7e2" stroke="none"/>
<ellipse cx="1350.8" cy="559.5" rx="1.8" ry="1.0" fill="#98b7e2" stroke="none"/>
<path d="M1121.1 598.9 L1126.1 592.6 L1132.9 587.1 L1141.8 580.2 L1151.6 574.9 L1162.4 569.8 L1174.1 565.5 L1186.9 562.0 L1200.6 559.6 L1214.4 558.1" stroke-width="2.1" stroke-dasharray="0.1 2.7"/>
<path d="M1255.5 609.1 L1261.1 612.4 L1266.6 613.5 L1271.5 615.2 L1276.5 616.8 L1281.4 619.6" stroke-width="3.2" stroke-dasharray="2.6 1.4"/>
<path d="M1286.4 615.7 L1291.4 619.4 L1295.8 619.6 L1299.6 616.3" stroke-width="3.0"/>
<path d="M1204.9 615.2 L1209.3 618.5 L1215.9 619.6 L1220.3 624.0 L1223.6 630.6 L1224.7 638.3 L1229.1 642.2" stroke-width="1.9" stroke-dasharray="2.5 1.6"/>
<path d="M1231.3 648.5 L1237.9 647.4 L1246.7 647.1 L1253.3 644.0 L1258.9 642.9 L1265.5 641.8" stroke-width="2.6" stroke-dasharray="3 1.2"/>
<path d="M1252.2 638.9 L1253.9 641.6" stroke-width="2.4"/>
<path d="M1272.1 644.9 L1282.0 645.6 L1287.5 642.9 L1291.9 640.5" stroke-width="2.2"/>
<path d="M1295.2 646.0 L1301.8 644.4 L1309.5 642.7" stroke-width="1.1" stroke-dasharray="0.1 2"/>
<path d="M1210.4 611.9 L1213.1 607.5 L1215.9 603.1" stroke-width="1.7" stroke-dasharray="2 1.6"/>
<path d="M1218.1 584.9 L1220.8 588.2 L1226.9 587.6 L1229.1 596.4 L1231.9 595.3" stroke-width="1.6" stroke-dasharray="0.1 2.6"/>
<path d="M1235.7 593.7 L1239.6 593.1 L1241.2 600.3" stroke-width="1.5" stroke-dasharray="0.1 2.6"/>
<path d="M1188.3 631.2 L1190.5 636.1" stroke-width="1.8"/>
<path d="M1189.4 644.9 L1193.8 649.3" stroke-width="2"/>
<circle cx="1266.1" cy="630.2" r="1.3" fill="#000" stroke="none"/>
<circle cx="1273.5" cy="623" r="0.9" fill="#000" stroke="none"/>
<circle cx="1305.2" cy="624.4" r="0.9" fill="#000" stroke="none"/>
<path d="M1165.3 623.4 L1173.2 625.4 L1183.0 625.8" stroke-width="1.8"/>
<path d="M958.3 649.5 L973.3 645.8 L979.9 649.3 L985.5 658.6 L991.1 669.8 L992.0 679.1 L987.3 688.4 L981.8 697.7 L972.5 707.0 L963.2 716.3 L955.7 727.4 L952.0 738.6 L952.9 747.9 L948.3 753.4 L939.0 759.0 L937.1 763.7 L941.8 768.3 L949.2 766.5 L954.8 762.7 L955.7 768.3 L948.3 775.8 L941.8 781.3 L939.9 786.9 L945.5 786.9 L951.1 781.3 L952.9 777.6 L950.2 786.9 L946.4 798.1 L941.8 813.0 L938.1 827.8 L933.4 842.7 L929.7 852.0 L922.3 863.2 L919.5 868.8 L913.0 875.1" stroke-width="2.1"/>
<polygon points="977.1,721.8 979.9,714.4 985.5,708.8 992.9,706.0 993.9,710.7 989.2,718.1 983.6,723.7 979.0,725.2" fill="#d2b48c" stroke-width="1.9"/>
<path d="M987.8 650.8 L990.8 658.2 L992.0 667.0 L994.5 674.5" stroke-width="1.4" stroke-dasharray="4 3"/>
<path d="M823.3 588.2 L826.3 595.8 L829.8 600.0" stroke-width="1.8" stroke-dasharray="0.5 4"/>
<path d="M753.3 868.8 L858.3 868.8 L858.3 860.8 L863.3 859.0 L869.5 861.5 L873.3 864.0 L879.5 857.0 L885.8 849.0 L890.8 837.0 L893.8 831.5 L899.5 831.5 L902.8 835.0" stroke-width="1.4" stroke-dasharray="5.2 2.3" stroke-linecap="butt"/>
<path d="M912.8 834.0 L919.3 835.5 L919.3 846.0 L921.8 853.0" stroke-width="1.4" stroke-dasharray="5.2 2.3" stroke-linecap="butt"/>
<path d="M917.8 846.0 L921.8 856.0 L925.8 861.0 L928.8 856.0" stroke-width="1.8" stroke-dasharray="3 1.5"/>
<path d="M937.8 763.0 L945.8 761.0 L952.8 765.0" stroke-width="2.2"/>
<path d="M940.8 785.0 L947.8 780.0 L952.8 779.0" stroke-width="2.2"/>
<circle cx="959.8" cy="823.5" r="1.1" fill="#000" stroke="none"/><circle cx="960.3" cy="814" r="0.7" fill="#000" stroke="none"/>
<polygon points="1287.3,778.5 1291.8,774.5 1295.3,778.0 1305.8,778.0 1309.0,781.3 1305.8,786.0 1289.8,786.2" fill="#98b7e2" stroke="none"/>
<polygon points="1288.6,777.6 1291.0,776.2 1293.4,778.0 1294.4,781.8 1295.8,779.6 1297.0,781.6 1306.2,781.2 1307.8,783.4 1305.8,785.3 1296.8,785.3 1293.8,785.0 1289.8,785.0" fill="#000" stroke-width="0.8"/>
<path d="M1296.8 783.7 L1306.0 782.9" stroke="#d2b48c" stroke-width="1.5" stroke-linecap="butt"/>
<polygon points="1360.3,760.5 1363.8,756.5 1368.8,756.5 1368.8,764.0 1363.3,764.0" fill="#98b7e2" stroke="none"/>
<path d="M1361.3 761.0 L1364.8 759.2 L1368.8 758.6" stroke-width="2.4" stroke-linecap="butt"/>
<path d="M1341.0 506.2 L1348.5 502.5 L1357.3 500.0" stroke-width="1.2" stroke-dasharray="1.5 2"/>
<circle cx="1345.3" cy="520" r="1.1" fill="#000" stroke="none"/>
<path d="M843.8 199.0 L847.8 195.0 L852.8 193.0" stroke-width="1"/>
</g>
<g clip-path="url(#clip1)">
<path d="M753.8 294 C761.8 290.5 771.3 289.5 770.8 297.5 C770.3 307 763.8 316.5 753.8 321.5" fill="none" stroke="#fff" stroke-width="4.2"/>
<path d="M1011.8 287.0 L1005.8 291.0 L1001.3 297.0 L998.3 302.5" fill="none" stroke="#fff" stroke-width="3.6" stroke-linecap="butt" stroke-linejoin="round"/>
<path d="M1053.8 428.5 L1062.8 431.5 L1070.8 435.5 L1077.8 440.5" fill="none" stroke="#fff" stroke-width="3.8" stroke-linecap="butt" stroke-linejoin="round"/>
<path d="M1041.3 702.5 L1048.8 702.5" fill="none" stroke="#fff" stroke-width="3.8" stroke-linecap="butt" stroke-linejoin="round"/>
<path d="M1076.3 687.0 L1079.8 699.5" fill="none" stroke="#fff" stroke-width="3.8" stroke-linecap="butt" stroke-linejoin="round"/>
<circle cx="998.6" cy="302.3" r="2.3" fill="#fff"/>
<polygon points="839.0,247.1 844.6,250.3 844.6,256.7 839.0,259.9 833.5,256.7 833.5,250.3" fill="#c6e7fc" stroke="#000" stroke-width="1.55" stroke-linejoin="miter"/>
<circle cx="885.3" cy="276.8" r="5.9" fill="#d62728" stroke="#000" stroke-width="1.55"/>
<polygon points="886.5,260.3 892.8,264.9 890.4,272.2 882.7,272.2 880.3,264.9" fill="#d5b6f3" stroke="#000" stroke-width="1.55" stroke-linejoin="miter"/>
<polygon points="997.8,266.1 1003.3,269.3 1003.3,275.7 997.8,278.9 992.3,275.7 992.3,269.3" fill="#bf9ae4" stroke="#000" stroke-width="1.55" stroke-linejoin="miter"/>
<polygon points="1036.3,295.3 1042.6,299.9 1040.2,307.2 1032.4,307.2 1030.0,299.9" fill="#4bb84b" stroke="#000" stroke-width="1.55" stroke-linejoin="miter"/>
<polygon points="927.3,382.9 932.8,386.1 932.8,392.4 927.3,395.6 921.8,392.4 921.8,386.1" fill="#8c564b" stroke="#000" stroke-width="1.55" stroke-linejoin="miter"/>
<polygon points="894.0,397.1 899.6,400.3 899.6,406.7 894.0,409.9 888.5,406.7 888.5,400.3" fill="#3f8ec9" stroke="#000" stroke-width="1.55" stroke-linejoin="miter"/>
<circle cx="932.0" cy="408.5" r="5.9" fill="#8fc4ec" stroke="#000" stroke-width="1.55"/>
<circle cx="861.0" cy="459.2" r="5.9" fill="#e0c6fb" stroke="#000" stroke-width="1.55"/>
<polygon points="949.5,462.8 955.8,467.4 953.4,474.7 945.7,474.7 943.3,467.4" fill="#ffc999" stroke="#000" stroke-width="1.55" stroke-linejoin="miter"/>
<circle cx="953.0" cy="460.0" r="5.9" fill="#a87fd2" stroke="#000" stroke-width="1.55"/>
<circle cx="755.0" cy="336.8" r="5.9" fill="#ff9535" stroke="#000" stroke-width="1.55"/>
<polygon points="754.3,338.8 760.6,343.4 758.2,350.7 750.4,350.7 748.0,343.4" fill="#62a5d8" stroke="#000" stroke-width="1.55" stroke-linejoin="miter"/>
<polygon points="1121.3,471.1 1126.8,474.3 1126.8,480.7 1121.3,483.9 1115.8,480.7 1115.8,474.3" fill="#98e698" stroke="#000" stroke-width="1.55" stroke-linejoin="miter"/>
<polygon points="1352.8,483.8 1359.1,488.4 1356.7,495.7 1348.9,495.7 1346.5,488.4" fill="#ff7f0e" stroke="#000" stroke-width="1.55" stroke-linejoin="miter"/>
<polygon points="1240.5,504.8 1246.8,509.4 1244.4,516.7 1236.7,516.7 1234.3,509.4" fill="#9467bd" stroke="#000" stroke-width="1.55" stroke-linejoin="miter"/>
<circle cx="1009.3" cy="533.2" r="5.9" fill="#1f77b4" stroke="#000" stroke-width="1.55"/>
<circle cx="1055.3" cy="528.2" r="5.9" fill="#6fd06f" stroke="#000" stroke-width="1.55"/>
<polygon points="1122.3,517.9 1127.8,521.0 1127.8,527.5 1122.3,530.6 1116.8,527.5 1116.8,521.0" fill="#e04d4e" stroke="#000" stroke-width="1.55" stroke-linejoin="miter"/>
<polygon points="1126.0,521.8 1132.3,526.4 1129.9,533.7 1122.2,533.7 1119.8,526.4" fill="#ea7778" stroke="#000" stroke-width="1.55" stroke-linejoin="miter"/>
<circle cx="1129.8" cy="534.2" r="5.9" fill="#f4a3a3" stroke="#000" stroke-width="1.55"/>
<polygon points="1129.8,535.6 1135.3,538.8 1135.3,545.2 1129.8,548.4 1124.3,545.2 1124.3,538.8" fill="#fccaca" stroke="#000" stroke-width="1.55" stroke-linejoin="miter"/>
<polygon points="1015.8,278.4 1023.4,293.6 1008.2,293.6" fill="#1f77b4" stroke="#000" stroke-width="1.55" stroke-linejoin="miter"/>
<polygon points="1141.5,288.4 1149.1,303.6 1134.0,303.6" fill="#9467bd" stroke="#000" stroke-width="1.55" stroke-linejoin="miter"/>
<polygon points="1080.3,437.4 1087.9,452.6 1072.7,452.6" fill="#7f7f7f" stroke="#000" stroke-width="1.55" stroke-linejoin="miter"/>
<polygon points="1051.8,697.4 1059.4,712.6 1044.2,712.6" fill="#8c564b" stroke="#000" stroke-width="1.55" stroke-linejoin="miter"/>
<polygon points="1080.8,700.4 1088.4,715.6 1073.2,715.6" fill="#e377c2" stroke="#000" stroke-width="1.55" stroke-linejoin="miter"/>
</g>
<path d="M756.4 873.4h612.0" stroke="#000" stroke-width="1" fill="none"/>
<path d="M1368.4 193.2V873.4" stroke="#000" stroke-width="1.4" fill="none"/>
<path d="M812.0 193.2v-8.6M812.0 873.4v8.6M923.3 193.2v-8.6M923.3 873.4v8.6M1034.6 193.2v-8.6M1034.6 873.4v8.6M1145.9 193.2v-8.6M1145.9 873.4v8.6M1257.1 193.2v-8.6M1257.1 873.4v8.6M1368.4 193.2v-8.6M1368.4 873.4v8.6M756.4 858.3h-8.6M1368.4 858.3h8.6M756.4 741.3h-8.6M1368.4 741.3h8.6M756.4 622.8h-8.6M1368.4 622.8h8.6M756.4 502.6h-8.6M1368.4 502.6h8.6M756.4 380.5h-8.6M1368.4 380.5h8.6M756.4 256.3h-8.6M1368.4 256.3h8.6" stroke="#000" stroke-width="2.8" fill="none"/>
<path d="M756.4 193.2v-3.6M756.4 873.4v3.6M784.2 193.2v-3.6M784.2 873.4v3.6M839.9 193.2v-3.6M839.9 873.4v3.6M867.7 193.2v-3.6M867.7 873.4v3.6M895.5 193.2v-3.6M895.5 873.4v3.6M951.1 193.2v-3.6M951.1 873.4v3.6M978.9 193.2v-3.6M978.9 873.4v3.6M1006.8 193.2v-3.6M1006.8 873.4v3.6M1062.4 193.2v-3.6M1062.4 873.4v3.6M1090.2 193.2v-3.6M1090.2 873.4v3.6M1118.0 193.2v-3.6M1118.0 873.4v3.6M1173.7 193.2v-3.6M1173.7 873.4v3.6M1201.5 193.2v-3.6M1201.5 873.4v3.6M1229.3 193.2v-3.6M1229.3 873.4v3.6M1284.9 193.2v-3.6M1284.9 873.4v3.6M1312.8 193.2v-3.6M1312.8 873.4v3.6M1340.6 193.2v-3.6M1340.6 873.4v3.6M756.4 829.2h-3.6M1368.4 829.2h3.6M756.4 800.0h-3.6M1368.4 800.0h3.6M756.4 770.7h-3.6M1368.4 770.7h3.6M756.4 711.9h-3.6M1368.4 711.9h3.6M756.4 682.3h-3.6M1368.4 682.3h3.6M756.4 652.6h-3.6M1368.4 652.6h3.6M756.4 593.0h-3.6M1368.4 593.0h3.6M756.4 563.0h-3.6M1368.4 563.0h3.6M756.4 532.9h-3.6M1368.4 532.9h3.6M756.4 472.3h-3.6M1368.4 472.3h3.6M756.4 441.8h-3.6M1368.4 441.8h3.6M756.4 411.2h-3.6M1368.4 411.2h3.6M756.4 349.7h-3.6M1368.4 349.7h3.6M756.4 318.7h-3.6M1368.4 318.7h3.6M756.4 287.6h-3.6M1368.4 287.6h3.6M756.4 224.9h-3.6M1368.4 224.9h3.6M756.4 193.3h-3.6M1368.4 193.3h3.6" stroke="#000" stroke-width="1.4" fill="none"/>
<text x="811.4" y="905.7" font-size="22.60" text-anchor="middle" font-weight="normal" font-style="normal" textLength="60.6" lengthAdjust="spacingAndGlyphs">90°W</text>
<text x="922.7" y="905.7" font-size="22.60" text-anchor="middle" font-weight="normal" font-style="normal" textLength="60.6" lengthAdjust="spacingAndGlyphs">88°W</text>
<text x="1034.0" y="905.7" font-size="22.60" text-anchor="middle" font-weight="normal" font-style="normal" textLength="60.6" lengthAdjust="spacingAndGlyphs">86°W</text>
<text x="1145.3" y="905.7" font-size="22.60" text-anchor="middle" font-weight="normal" font-style="normal" textLength="60.6" lengthAdjust="spacingAndGlyphs">84°W</text>
<text x="1256.5" y="905.7" font-size="22.60" text-anchor="middle" font-weight="normal" font-style="normal" textLength="60.6" lengthAdjust="spacingAndGlyphs">82°W</text>
<text x="1367.8" y="905.7" font-size="22.60" text-anchor="middle" font-weight="normal" font-style="normal" textLength="60.6" lengthAdjust="spacingAndGlyphs">80°W</text>
<text x="1383.4" y="867.7" font-size="22.60" text-anchor="start" font-weight="normal" font-style="normal" textLength="55.6" lengthAdjust="spacingAndGlyphs">18°N</text>
<text x="1383.4" y="750.7" font-size="22.60" text-anchor="start" font-weight="normal" font-style="normal" textLength="55.6" lengthAdjust="spacingAndGlyphs">20°N</text>
<text x="1383.4" y="632.2" font-size="22.60" text-anchor="start" font-weight="normal" font-style="normal" textLength="55.6" lengthAdjust="spacingAndGlyphs">22°N</text>
<text x="1383.4" y="512.0" font-size="22.60" text-anchor="start" font-weight="normal" font-style="normal" textLength="55.6" lengthAdjust="spacingAndGlyphs">24°N</text>
<text x="1383.4" y="389.9" font-size="22.60" text-anchor="start" font-weight="normal" font-style="normal" textLength="55.6" lengthAdjust="spacingAndGlyphs">26°N</text>
<text x="1383.4" y="265.7" font-size="22.60" text-anchor="start" font-weight="normal" font-style="normal" textLength="55.6" lengthAdjust="spacingAndGlyphs">28°N</text>
<rect x="171.60" y="949.6" width="53.38" height="16.0" fill="#06263f"/>
<rect x="224.38" y="949.6" width="53.38" height="16.0" fill="#0a2d58"/>
<rect x="277.16" y="949.6" width="53.38" height="16.0" fill="#173072"/>
<rect x="329.94" y="949.6" width="53.38" height="16.0" fill="#2b328d"/>
<rect x="382.72" y="949.6" width="53.38" height="16.0" fill="#3f359a"/>
<rect x="435.50" y="949.6" width="53.38" height="16.0" fill="#533b9a"/>
<rect x="488.29" y="949.6" width="53.38" height="16.0" fill="#654296"/>
<rect x="541.07" y="949.6" width="53.38" height="16.0" fill="#764992"/>
<rect x="593.85" y="949.6" width="53.38" height="16.0" fill="#86508d"/>
<rect x="646.63" y="949.6" width="53.38" height="16.0" fill="#965689"/>
<rect x="699.41" y="949.6" width="53.38" height="16.0" fill="#a75c84"/>
<rect x="752.19" y="949.6" width="53.38" height="16.0" fill="#b8617c"/>
<rect x="804.97" y="949.6" width="53.38" height="16.0" fill="#c96773"/>
<rect x="857.75" y="949.6" width="53.38" height="16.0" fill="#d96e67"/>
<rect x="910.53" y="949.6" width="53.38" height="16.0" fill="#e6785a"/>
<rect x="963.31" y="949.6" width="53.38" height="16.0" fill="#f1844c"/>
<rect x="1016.10" y="949.6" width="53.38" height="16.0" fill="#f79443"/>
<rect x="1068.88" y="949.6" width="53.38" height="16.0" fill="#faa43e"/>
<rect x="1121.66" y="949.6" width="53.38" height="16.0" fill="#fab63e"/>
<rect x="1174.44" y="949.6" width="53.38" height="16.0" fill="#f7ca44"/>
<rect x="1227.22" y="949.6" width="53.38" height="16.0" fill="#f2dd4b"/>
<path d="M171.9 949.6L116.1 957.6L171.9 965.6Z" fill="#032333"/>
<path d="M1280.3 949.6L1335.6 957.6L1280.3 965.6Z" fill="#e7fa5a"/>
<path d="M171.9 949.6L116.1 957.6L171.9 965.6L1280.3 965.6L1335.6 957.6L1280.3 949.6Z" fill="none" stroke="#000" stroke-width="1.1" stroke-linejoin="miter"/>
<text x="171.6" y="993.8" font-size="21.20" text-anchor="middle" font-weight="normal" font-style="normal" textLength="45.2" lengthAdjust="spacingAndGlyphs">12.0</text>
<text x="329.9" y="993.8" font-size="21.20" text-anchor="middle" font-weight="normal" font-style="normal" textLength="45.2" lengthAdjust="spacingAndGlyphs">13.5</text>
<text x="488.3" y="993.8" font-size="21.20" text-anchor="middle" font-weight="normal" font-style="normal" textLength="45.2" lengthAdjust="spacingAndGlyphs">15.0</text>
<text x="646.6" y="993.8" font-size="21.20" text-anchor="middle" font-weight="normal" font-style="normal" textLength="45.2" lengthAdjust="spacingAndGlyphs">16.5</text>
<text x="805.0" y="993.8" font-size="21.20" text-anchor="middle" font-weight="normal" font-style="normal" textLength="45.2" lengthAdjust="spacingAndGlyphs">18.0</text>
<text x="963.3" y="993.8" font-size="21.20" text-anchor="middle" font-weight="normal" font-style="normal" textLength="45.2" lengthAdjust="spacingAndGlyphs">19.5</text>
<text x="1121.7" y="993.8" font-size="21.20" text-anchor="middle" font-weight="normal" font-style="normal" textLength="45.2" lengthAdjust="spacingAndGlyphs">21.0</text>
<text x="1280.0" y="993.8" font-size="21.20" text-anchor="middle" font-weight="normal" font-style="normal" textLength="45.2" lengthAdjust="spacingAndGlyphs">22.5</text>
<path d="M171.9 965.6v5.4M330.2 965.6v5.4M488.6 965.6v5.4M646.9 965.6v5.4M805.3 965.6v5.4M963.6 965.6v5.4M1122.0 965.6v5.4M1280.3 965.6v5.4" stroke="#000" stroke-width="1.1" fill="none"/>
<text x="726.0" y="1020.8" font-size="21.20" text-anchor="middle" font-weight="bold" font-style="normal" textLength="234.5" lengthAdjust="spacingAndGlyphs">Temperature (degC)</text>
<text x="725.8" y="1049.8" font-size="15.90" text-anchor="middle" font-weight="bold" font-style="italic" textLength="649.0" lengthAdjust="spacingAndGlyphs">Glider/Argo Search Window: 2025-10-16 03:00:00 to 2025-10-21 00:00:00</text>
<rect x="96.2" y="1110.8" width="1259.4" height="87.8" rx="3.5" ry="3.5" fill="#fff" stroke="#cccccc" stroke-width="1.3"/>
<circle cx="115.4" cy="1123.3" r="5.9" fill="#1f77b4" stroke="#000" stroke-width="1.55"/>
<text x="141.2" y="1128.6" font-size="14.10" text-anchor="start" font-weight="normal" font-style="normal" textLength="60.3" lengthAdjust="spacingAndGlyphs">4903249</text>
<polygon points="115.4,1137.9 120.9,1141.1 120.9,1147.5 115.4,1150.7 109.9,1147.5 109.9,1141.1" fill="#3f8ec9" stroke="#000" stroke-width="1.55" stroke-linejoin="miter"/>
<text x="141.2" y="1149.6" font-size="14.10" text-anchor="start" font-weight="normal" font-style="normal" textLength="60.3" lengthAdjust="spacingAndGlyphs">4903250</text>
<polygon points="115.4,1159.0 121.7,1163.6 119.3,1170.9 111.5,1170.9 109.1,1163.6" fill="#62a5d8" stroke="#000" stroke-width="1.55" stroke-linejoin="miter"/>
<text x="141.2" y="1170.5" font-size="14.10" text-anchor="start" font-weight="normal" font-style="normal" textLength="60.3" lengthAdjust="spacingAndGlyphs">4903254</text>
<circle cx="115.4" cy="1186.1" r="5.9" fill="#8fc4ec" stroke="#000" stroke-width="1.55"/>
<text x="141.2" y="1191.4" font-size="14.10" text-anchor="start" font-weight="normal" font-style="normal" textLength="60.3" lengthAdjust="spacingAndGlyphs">4903279</text>
<polygon points="244.2,1116.9 249.8,1120.1 249.8,1126.5 244.2,1129.7 238.7,1126.5 238.7,1120.1" fill="#c6e7fc" stroke="#000" stroke-width="1.55" stroke-linejoin="miter"/>
<text x="270.1" y="1128.6" font-size="14.10" text-anchor="start" font-weight="normal" font-style="normal" textLength="60.3" lengthAdjust="spacingAndGlyphs">4903353</text>
<polygon points="244.2,1138.1 250.5,1142.7 248.1,1150.0 240.4,1150.0 238.0,1142.7" fill="#ff7f0e" stroke="#000" stroke-width="1.55" stroke-linejoin="miter"/>
<text x="270.1" y="1149.6" font-size="14.10" text-anchor="start" font-weight="normal" font-style="normal" textLength="60.3" lengthAdjust="spacingAndGlyphs">4903354</text>
<circle cx="244.2" cy="1165.2" r="5.9" fill="#ff9535" stroke="#000" stroke-width="1.55"/>
<text x="270.1" y="1170.5" font-size="14.10" text-anchor="start" font-weight="normal" font-style="normal" textLength="60.3" lengthAdjust="spacingAndGlyphs">4903356</text>
<polygon points="244.2,1179.7 249.8,1182.9 249.8,1189.3 244.2,1192.5 238.7,1189.3 238.7,1182.9" fill="#ffae66" stroke="#000" stroke-width="1.55" stroke-linejoin="miter"/>
<text x="270.1" y="1191.4" font-size="14.10" text-anchor="start" font-weight="normal" font-style="normal" textLength="60.3" lengthAdjust="spacingAndGlyphs">4903466</text>
<polygon points="373.1,1117.1 379.4,1121.7 377.0,1129.0 369.2,1129.0 366.8,1121.7" fill="#ffc999" stroke="#000" stroke-width="1.55" stroke-linejoin="miter"/>
<text x="398.9" y="1128.6" font-size="14.10" text-anchor="start" font-weight="normal" font-style="normal" textLength="60.3" lengthAdjust="spacingAndGlyphs">4903466</text>
<circle cx="373.1" cy="1144.3" r="5.9" fill="#ffdcc0" stroke="#000" stroke-width="1.55"/>
<text x="398.9" y="1149.6" font-size="14.10" text-anchor="start" font-weight="normal" font-style="normal" textLength="60.3" lengthAdjust="spacingAndGlyphs">4903469</text>
<polygon points="373.1,1158.8 378.6,1162.0 378.6,1168.4 373.1,1171.6 367.6,1168.4 367.6,1162.0" fill="#2ca02c" stroke="#000" stroke-width="1.55" stroke-linejoin="miter"/>
<text x="398.9" y="1170.5" font-size="14.10" text-anchor="start" font-weight="normal" font-style="normal" textLength="60.3" lengthAdjust="spacingAndGlyphs">4903469</text>
<polygon points="373.1,1179.9 379.4,1184.5 377.0,1191.8 369.2,1191.8 366.8,1184.5" fill="#4bb84b" stroke="#000" stroke-width="1.55" stroke-linejoin="miter"/>
<text x="398.9" y="1191.4" font-size="14.10" text-anchor="start" font-weight="normal" font-style="normal" textLength="60.3" lengthAdjust="spacingAndGlyphs">4903471</text>
<circle cx="501.9" cy="1123.3" r="5.9" fill="#6fd06f" stroke="#000" stroke-width="1.55"/>
<text x="527.7" y="1128.6" font-size="14.10" text-anchor="start" font-weight="normal" font-style="normal" textLength="60.3" lengthAdjust="spacingAndGlyphs">4903472</text>
<polygon points="501.9,1137.9 507.5,1141.1 507.5,1147.5 501.9,1150.7 496.4,1147.5 496.4,1141.1" fill="#98e698" stroke="#000" stroke-width="1.55" stroke-linejoin="miter"/>
<text x="527.7" y="1149.6" font-size="14.10" text-anchor="start" font-weight="normal" font-style="normal" textLength="60.3" lengthAdjust="spacingAndGlyphs">4903544</text>
<polygon points="501.9,1159.0 508.2,1163.6 505.8,1170.9 498.1,1170.9 495.7,1163.6" fill="#c9fac9" stroke="#000" stroke-width="1.55" stroke-linejoin="miter"/>
<text x="527.7" y="1170.5" font-size="14.10" text-anchor="start" font-weight="normal" font-style="normal" textLength="60.3" lengthAdjust="spacingAndGlyphs">4903547</text>
<circle cx="501.9" cy="1186.1" r="5.9" fill="#d62728" stroke="#000" stroke-width="1.55"/>
<text x="527.7" y="1191.4" font-size="14.10" text-anchor="start" font-weight="normal" font-style="normal" textLength="60.3" lengthAdjust="spacingAndGlyphs">4903549</text>
<polygon points="630.8,1116.9 636.3,1120.1 636.3,1126.5 630.8,1129.7 625.3,1126.5 625.3,1120.1" fill="#e04d4e" stroke="#000" stroke-width="1.55" stroke-linejoin="miter"/>
<text x="656.6" y="1128.6" font-size="14.10" text-anchor="start" font-weight="normal" font-style="normal" textLength="60.3" lengthAdjust="spacingAndGlyphs">4903550</text>
<polygon points="630.8,1138.1 637.1,1142.7 634.7,1150.0 626.9,1150.0 624.5,1142.7" fill="#ea7778" stroke="#000" stroke-width="1.55" stroke-linejoin="miter"/>
<text x="656.6" y="1149.6" font-size="14.10" text-anchor="start" font-weight="normal" font-style="normal" textLength="60.3" lengthAdjust="spacingAndGlyphs">4903550</text>
<circle cx="630.8" cy="1165.2" r="5.9" fill="#f4a3a3" stroke="#000" stroke-width="1.55"/>
<text x="656.6" y="1170.5" font-size="14.10" text-anchor="start" font-weight="normal" font-style="normal" textLength="60.3" lengthAdjust="spacingAndGlyphs">4903552</text>
<polygon points="759.6,1116.9 765.2,1120.1 765.2,1126.5 759.6,1129.7 754.1,1126.5 754.1,1120.1" fill="#fccaca" stroke="#000" stroke-width="1.55" stroke-linejoin="miter"/>
<text x="785.4" y="1128.6" font-size="14.10" text-anchor="start" font-weight="normal" font-style="normal" textLength="60.3" lengthAdjust="spacingAndGlyphs">4903552</text>
<polygon points="759.6,1138.1 765.9,1142.7 763.5,1150.0 755.8,1150.0 753.4,1142.7" fill="#9467bd" stroke="#000" stroke-width="1.55" stroke-linejoin="miter"/>
<text x="785.4" y="1149.6" font-size="14.10" text-anchor="start" font-weight="normal" font-style="normal" textLength="60.3" lengthAdjust="spacingAndGlyphs">4903553</text>
<circle cx="759.6" cy="1165.2" r="5.9" fill="#a87fd2" stroke="#000" stroke-width="1.55"/>
<text x="785.4" y="1170.5" font-size="14.10" text-anchor="start" font-weight="normal" font-style="normal" textLength="60.3" lengthAdjust="spacingAndGlyphs">4903554</text>
<polygon points="888.5,1116.9 894.0,1120.1 894.0,1126.5 888.5,1129.7 883.0,1126.5 883.0,1120.1" fill="#bf9ae4" stroke="#000" stroke-width="1.55" stroke-linejoin="miter"/>
<text x="914.3" y="1128.6" font-size="14.10" text-anchor="start" font-weight="normal" font-style="normal" textLength="60.3" lengthAdjust="spacingAndGlyphs">4903555</text>
<polygon points="888.5,1138.1 894.8,1142.7 892.4,1150.0 884.6,1150.0 882.2,1142.7" fill="#d5b6f3" stroke="#000" stroke-width="1.55" stroke-linejoin="miter"/>
<text x="914.3" y="1149.6" font-size="14.10" text-anchor="start" font-weight="normal" font-style="normal" textLength="60.3" lengthAdjust="spacingAndGlyphs">4903556</text>
<circle cx="888.5" cy="1165.2" r="5.9" fill="#e0c6fb" stroke="#000" stroke-width="1.55"/>
<text x="914.3" y="1170.5" font-size="14.10" text-anchor="start" font-weight="normal" font-style="normal" textLength="60.3" lengthAdjust="spacingAndGlyphs">4903622</text>
<polygon points="1017.3,1116.9 1022.9,1120.1 1022.9,1126.5 1017.3,1129.7 1011.8,1126.5 1011.8,1120.1" fill="#8c564b" stroke="#000" stroke-width="1.55" stroke-linejoin="miter"/>
<text x="1043.1" y="1128.6" font-size="14.10" text-anchor="start" font-weight="normal" font-style="normal" textLength="60.3" lengthAdjust="spacingAndGlyphs">7901009</text>
<path d="M1001.9 1144.3h30.8" stroke="#1f77b4" stroke-width="2.8" fill="none"/>
<polygon points="1017.3,1136.3 1024.7,1151.1 1010.0,1151.1" fill="#1f77b4" stroke="#000" stroke-width="1.55" stroke-linejoin="miter"/>
<text x="1042.9" y="1149.6" font-size="14.10" text-anchor="start" font-weight="normal" font-style="normal" textLength="43.0" lengthAdjust="spacingAndGlyphs">ng264</text>
<path d="M1001.9 1165.2h30.8" stroke="#ff7f0e" stroke-width="2.8" fill="none"/>
<polygon points="1017.3,1157.2 1024.7,1172.0 1010.0,1172.0" fill="#ff7f0e" stroke="#000" stroke-width="1.55" stroke-linejoin="miter"/>
<text x="1042.9" y="1170.5" font-size="14.10" text-anchor="start" font-weight="normal" font-style="normal" textLength="42.7" lengthAdjust="spacingAndGlyphs">ng598</text>
<path d="M1130.8 1123.3h30.8" stroke="#2ca02c" stroke-width="2.8" fill="none"/>
<polygon points="1146.2,1115.3 1153.6,1130.1 1138.8,1130.1" fill="#2ca02c" stroke="#000" stroke-width="1.55" stroke-linejoin="miter"/>
<text x="1171.8" y="1128.6" font-size="14.10" text-anchor="start" font-weight="normal" font-style="normal" textLength="42.5" lengthAdjust="spacingAndGlyphs">ng735</text>
<path d="M1130.8 1144.3h30.8" stroke="#d62728" stroke-width="2.8" fill="none"/>
<polygon points="1146.2,1136.3 1153.6,1151.1 1138.8,1151.1" fill="#d62728" stroke="#000" stroke-width="1.55" stroke-linejoin="miter"/>
<text x="1171.8" y="1149.6" font-size="14.10" text-anchor="start" font-weight="normal" font-style="normal" textLength="16.8" lengthAdjust="spacingAndGlyphs">ori</text>
<path d="M1130.8 1165.2h30.8" stroke="#9467bd" stroke-width="2.8" fill="none"/>
<polygon points="1146.2,1157.2 1153.6,1172.0 1138.8,1172.0" fill="#9467bd" stroke="#000" stroke-width="1.55" stroke-linejoin="miter"/>
<text x="1171.8" y="1170.5" font-size="14.10" text-anchor="start" font-weight="normal" font-style="normal" textLength="30.8" lengthAdjust="spacingAndGlyphs">ru38</text>
<path d="M1241.8 1123.3h30.8" stroke="#8c564b" stroke-width="2.8" fill="none"/>
<polygon points="1257.2,1115.3 1264.6,1130.1 1249.8,1130.1" fill="#8c564b" stroke="#000" stroke-width="1.55" stroke-linejoin="miter"/>
<text x="1282.8" y="1128.6" font-size="14.10" text-anchor="start" font-weight="normal" font-style="normal" textLength="41.8" lengthAdjust="spacingAndGlyphs">sg650</text>
<path d="M1241.8 1144.3h30.8" stroke="#e377c2" stroke-width="2.8" fill="none"/>
<polygon points="1257.2,1136.3 1264.6,1151.1 1249.8,1151.1" fill="#e377c2" stroke="#000" stroke-width="1.55" stroke-linejoin="miter"/>
<text x="1282.8" y="1149.6" font-size="14.10" text-anchor="start" font-weight="normal" font-style="normal" textLength="41.4" lengthAdjust="spacingAndGlyphs">sg651</text>
<path d="M1241.8 1165.2h30.8" stroke="#7f7f7f" stroke-width="2.8" fill="none"/>
<polygon points="1257.2,1157.2 1264.6,1172.0 1249.8,1172.0" fill="#7f7f7f" stroke="#000" stroke-width="1.55" stroke-linejoin="miter"/>
<text x="1282.8" y="1170.5" font-size="14.10" text-anchor="start" font-weight="normal" font-style="normal" textLength="67.9" lengthAdjust="spacingAndGlyphs">unit_1148</text>
</g>
</svg>
</body></html>
